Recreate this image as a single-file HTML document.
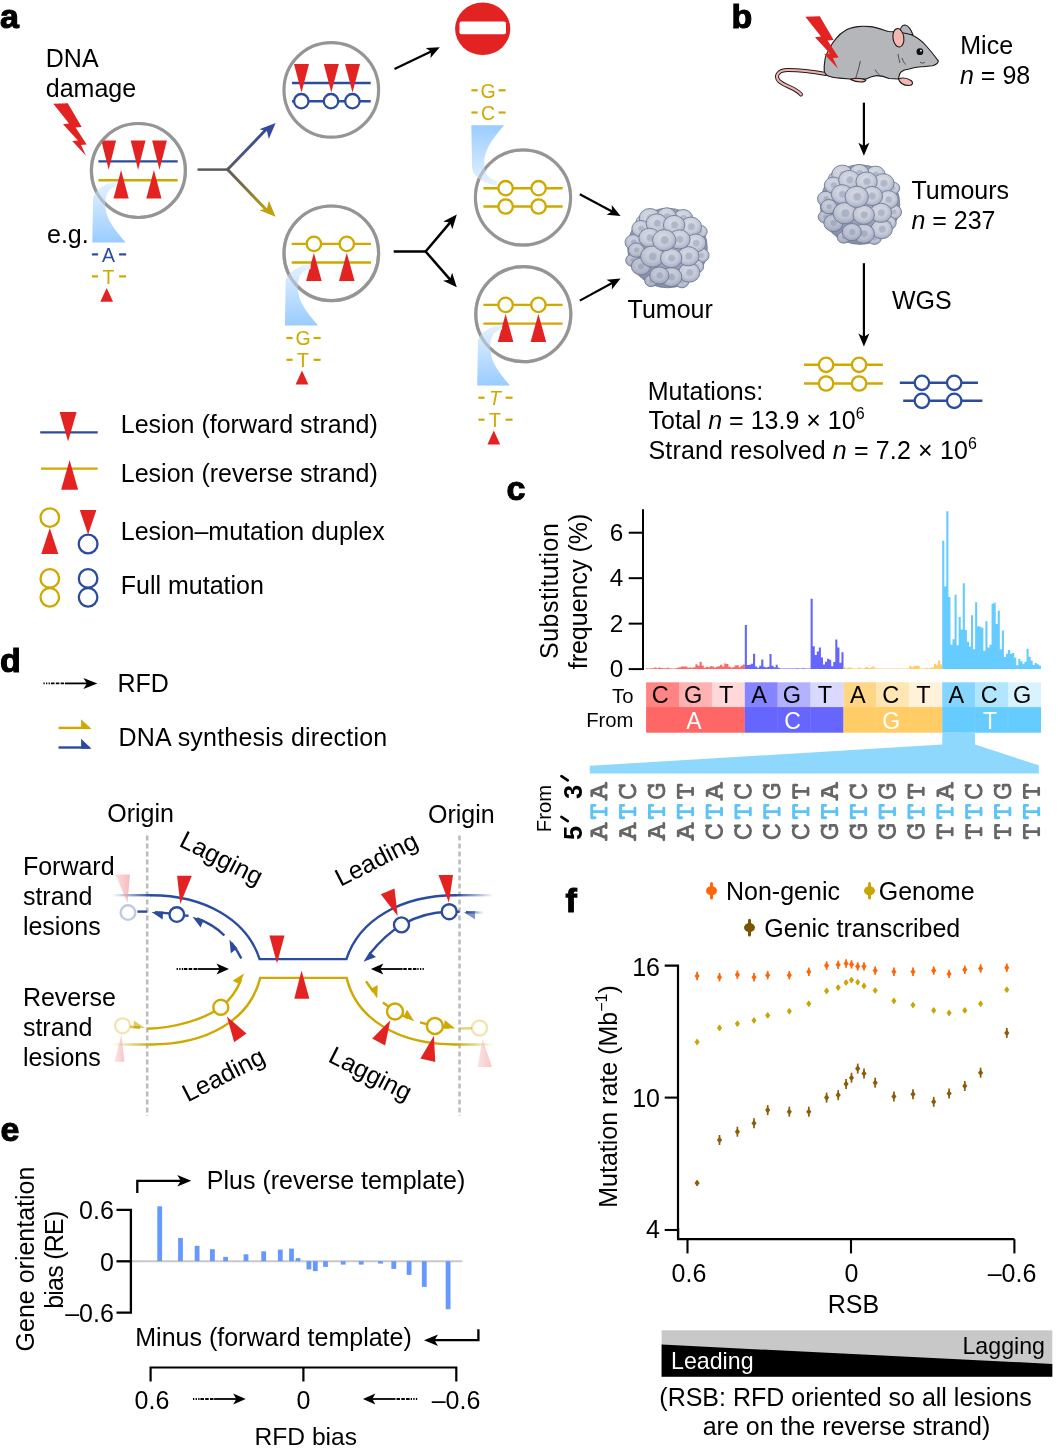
<!DOCTYPE html>
<html><head><meta charset="utf-8"><style>
html,body{margin:0;padding:0;background:#fff;}
svg{display:block;will-change:transform;}
text{font-family:"Liberation Sans", sans-serif;}
</style></head><body>
<svg width="1060" height="1450" viewBox="0 0 1060 1450">
<defs>
<linearGradient id="rib" x1="0" y1="0" x2="0" y2="1">
 <stop offset="0" stop-color="#e6f2ff"/><stop offset="1" stop-color="#99ccff"/></linearGradient>
<linearGradient id="ribU" x1="0" y1="1" x2="0" y2="0">
 <stop offset="0" stop-color="#e6f2ff"/><stop offset="1" stop-color="#99ccff"/></linearGradient>
<linearGradient id="gBlue" x1="0" y1="1" x2="1" y2="0">
 <stop offset="0" stop-color="#5a5a5a"/><stop offset="0.45" stop-color="#4a5684"/><stop offset="1" stop-color="#34499e"/></linearGradient>
<linearGradient id="gYel" x1="0" y1="0" x2="1" y2="1">
 <stop offset="0" stop-color="#5a5a5a"/><stop offset="0.45" stop-color="#7a7040"/><stop offset="1" stop-color="#c2a00c"/></linearGradient>
<radialGradient id="tumBase" cx="0.45" cy="0.45" r="0.6">
 <stop offset="0" stop-color="#b7bdcf"/><stop offset="1" stop-color="#8a93ad"/></radialGradient>
<linearGradient id="tumShade" x1="0.85" y1="0.1" x2="0.15" y2="0.95">
 <stop offset="0" stop-color="#5a6484" stop-opacity="0"/><stop offset="0.55" stop-color="#5a6484" stop-opacity="0.04"/><stop offset="1" stop-color="#5a6484" stop-opacity="0.28"/></linearGradient>
<radialGradient id="cellG" cx="0.45" cy="0.4" r="0.65">
 <stop offset="0" stop-color="#dde0e9"/><stop offset="0.55" stop-color="#cbd0dc"/><stop offset="0.85" stop-color="#b1b8ca"/><stop offset="1" stop-color="#949db6"/></radialGradient>
</defs>
<text x="0" y="28" font-size="34" font-weight="bold" stroke="#000" stroke-width="1.1">a</text>
<text x="731.5" y="28" font-size="34" font-weight="bold" stroke="#000" stroke-width="1.1">b</text>
<text x="506.5" y="499.5" font-size="34" font-weight="bold" stroke="#000" stroke-width="1.1">c</text>
<text x="0" y="672" font-size="34" font-weight="bold" stroke="#000" stroke-width="1.1">d</text>
<text x="0.5" y="1141" font-size="34" font-weight="bold" stroke="#000" stroke-width="1.1">e</text>
<text x="565.5" y="912" font-size="34" font-weight="bold" stroke="#000" stroke-width="1.1">f</text>
<polygon points="53.3,103.8 67.8,103.3 81.7,127.0 75.6,127.6 86.7,144.4 81.0,145.0 86.0,155.8 72.2,141.0 78.0,140.4 63.0,124.3 69.0,123.5" fill="#e32321"/>
<text x="45.8" y="67" font-size="25" >DNA</text>
<text x="45.8" y="96.5" font-size="25" >damage</text>
<text x="47" y="243.3" font-size="25" >e.g.</text>
<circle cx="138.4" cy="170.5" r="47" fill="#fff" stroke="#959595" stroke-width="3.2" />
<line x1="98.4" y1="161.4" x2="177.7" y2="161.4" stroke="#2b4c9e" stroke-width="2.4" />
<line x1="98.4" y1="180.2" x2="177.7" y2="180.2" stroke="#cfa800" stroke-width="2.4" />
<polygon points="101.3,140.6 116.10000000000001,140.6 108.7,169.79999999999998" fill="#e32321" />
<polygon points="130.7,140.6 145.5,140.6 138.1,169.79999999999998" fill="#e32321" />
<polygon points="152.1,140.6 166.9,140.6 159.5,169.79999999999998" fill="#e32321" />
<polygon points="113.5,198.6 128.7,198.6 121.1,170.0" fill="#e32321" />
<polygon points="146.3,198.6 161.5,198.6 153.9,170.0" fill="#e32321" />
<path d="M115.8,181.9 C105.8,182.9 93.3,189.9 93.1,199.9 L92.3,242.6 L125.7,242.6 C117.7,232.6 105.3,220.6 105.3,204.6 C105.3,193.9 109.3,187.9 115.8,186.9 Z" fill="url(#rib)"/>
<circle cx="138.4" cy="170.5" r="47" fill="none" stroke="#959595" stroke-width="3.2" stroke-opacity="0.55"/>
<line x1="91.9" y1="254.4" x2="98.1" y2="254.4" stroke="#2b4c9e" stroke-width="2.2" />
<line x1="119.1" y1="254.4" x2="126.1" y2="254.4" stroke="#2b4c9e" stroke-width="2.2" />
<text x="108.5" y="261.7" font-size="19.5" text-anchor="middle" fill="#2b4c9e" >A</text>
<line x1="91.9" y1="276.4" x2="98.1" y2="276.4" stroke="#cfa800" stroke-width="2.2" />
<line x1="119.1" y1="276.4" x2="126.1" y2="276.4" stroke="#cfa800" stroke-width="2.2" />
<text x="108.5" y="283.7" font-size="19.5" text-anchor="middle" fill="#cfa800" >T</text>
<polygon points="100.3,301.7 113.10000000000001,301.7 106.7,288.0" fill="#e32321" />
<line x1="197.5" y1="169.6" x2="228" y2="169.6" stroke="#5a5a5a" stroke-width="2.5" />
<path d="M226.6,170.6 L267,128.6" stroke="url(#gBlue)" stroke-width="2.9" fill="none"/>
<polygon points="275.60,123.00 259.42,129.30 266.99,131.36 268.82,138.99" fill="#34499e"/>
<path d="M226.6,168.6 L267,210.6" stroke="url(#gYel)" stroke-width="2.9" fill="none"/>
<polygon points="275.60,216.70 268.91,200.68 267.03,208.30 259.45,210.31" fill="#c2a00c"/>
<circle cx="331.3" cy="89.9" r="47.3" fill="#fff" stroke="#959595" stroke-width="3.2" />
<line x1="292" y1="83" x2="370.7" y2="83" stroke="#2b4c9e" stroke-width="2.4" />
<line x1="292" y1="101.2" x2="370.7" y2="101.2" stroke="#2b4c9e" stroke-width="2.4" />
<circle cx="301.3" cy="101.2" r="7.2" fill="#fff" stroke="#2b4c9e" stroke-width="2.3" />
<circle cx="331" cy="101.2" r="7.2" fill="#fff" stroke="#2b4c9e" stroke-width="2.3" />
<circle cx="352.4" cy="101.2" r="7.2" fill="#fff" stroke="#2b4c9e" stroke-width="2.3" />
<polygon points="294.0,64 309.0,64 301.5,92.5" fill="#e32321" />
<polygon points="323.8,64 338.8,64 331.3,92.5" fill="#e32321" />
<polygon points="345.0,64 360.0,64 352.5,92.5" fill="#e32321" />
<circle cx="331.3" cy="253.3" r="47.3" fill="#fff" stroke="#959595" stroke-width="3.2" />
<line x1="291.7" y1="243.9" x2="371" y2="243.9" stroke="#cfa800" stroke-width="2.4" />
<line x1="291.7" y1="262.5" x2="371" y2="262.5" stroke="#cfa800" stroke-width="2.4" />
<circle cx="313.9" cy="243.9" r="7.2" fill="#fff" stroke="#cfa800" stroke-width="2.3" />
<polygon points="306.09999999999997,281 321.7,281 313.9,253" fill="#e32321" />
<circle cx="346.8" cy="243.9" r="7.2" fill="#fff" stroke="#cfa800" stroke-width="2.3" />
<polygon points="339.0,281 354.6,281 346.8,253" fill="#e32321" />
<path d="M310.6,264 C300.6,265 285.9,272 285.7,282 L284.9,325.5 L318.1,325.5 C310.1,315.5 297.9,303.5 297.9,287.5 C297.9,276 301.9,270 310.6,269 Z" fill="url(#rib)"/>
<circle cx="331.3" cy="253.3" r="47.3" fill="none" stroke="#959595" stroke-width="3.2" stroke-opacity="0.55"/>
<line x1="286.4" y1="338" x2="292.6" y2="338" stroke="#cfa800" stroke-width="2.2" />
<line x1="313.6" y1="338" x2="320.6" y2="338" stroke="#cfa800" stroke-width="2.2" />
<text x="303" y="345.3" font-size="19.5" text-anchor="middle" fill="#cfa800" >G</text>
<line x1="286.4" y1="359.8" x2="292.6" y2="359.8" stroke="#cfa800" stroke-width="2.2" />
<line x1="313.6" y1="359.8" x2="320.6" y2="359.8" stroke="#cfa800" stroke-width="2.2" />
<text x="303" y="367.1" font-size="19.5" text-anchor="middle" fill="#cfa800" >T</text>
<polygon points="295.6,384.5 308.4,384.5 302,370.5" fill="#e32321" />
<line x1="393.7" y1="251.5" x2="426" y2="251.5" stroke="#000" stroke-width="2.5" />
<line x1="425" y1="252.2" x2="450.4715504219552" y2="222.0826950985687" stroke="#000" stroke-width="2.5" />
<polygon points="456.80,214.60 443.18,221.42 450.02,222.62 452.34,229.16" fill="#000"/>
<line x1="425" y1="250.8" x2="450.362434759747" y2="279.9109707148039" stroke="#000" stroke-width="2.5" />
<polygon points="456.80,287.30 452.13,272.80 449.90,279.38 443.08,280.69" fill="#000"/>
<line x1="394.5" y1="69.1" x2="431.60009882994916" y2="51.24608930479267" stroke="#000" stroke-width="2.2" />
<polygon points="439.80,47.30 425.70,47.98 431.01,51.53 430.47,57.89" fill="#000"/>
<ellipse cx="482.7" cy="28.8" rx="27.6" ry="26.3" fill="#e32321"/>
<rect x="459.5" y="21.4" width="46.5" height="12.8" rx="2" fill="#fff"/>
<line x1="471.4" y1="90.3" x2="477.6" y2="90.3" stroke="#cfa800" stroke-width="2.2" />
<line x1="498.6" y1="90.3" x2="505.6" y2="90.3" stroke="#cfa800" stroke-width="2.2" />
<text x="488" y="97.6" font-size="19.5" text-anchor="middle" fill="#cfa800" >G</text>
<line x1="471.4" y1="112.5" x2="477.6" y2="112.5" stroke="#cfa800" stroke-width="2.2" />
<line x1="498.6" y1="112.5" x2="505.6" y2="112.5" stroke="#cfa800" stroke-width="2.2" />
<text x="488" y="119.8" font-size="19.5" text-anchor="middle" fill="#cfa800" >C</text>
<circle cx="523" cy="197.5" r="47.6" fill="#fff" stroke="#959595" stroke-width="3" />
<path d="M497,185.5 C487,184.5 472.3,177.5 472.1,167.5 L471.3,125.2 L504.1,125.2 C496.1,135.2 484.3,147.2 484.3,163.2 C484.3,173.5 488.3,179.5 497,180.5 Z" fill="url(#ribU)"/>
<line x1="483.4" y1="188.2" x2="562.6" y2="188.2" stroke="#cfa800" stroke-width="2.4" />
<line x1="483.4" y1="206.5" x2="562.6" y2="206.5" stroke="#cfa800" stroke-width="2.4" />
<circle cx="505.6" cy="188.2" r="7.2" fill="#fff" stroke="#cfa800" stroke-width="2.3" />
<circle cx="505.6" cy="206.5" r="7.2" fill="#fff" stroke="#cfa800" stroke-width="2.3" />
<circle cx="538.6" cy="188.2" r="7.2" fill="#fff" stroke="#cfa800" stroke-width="2.3" />
<circle cx="538.6" cy="206.5" r="7.2" fill="#fff" stroke="#cfa800" stroke-width="2.3" />
<circle cx="523" cy="197.5" r="47.6" fill="none" stroke="#959595" stroke-width="3.2" stroke-opacity="0.55"/>
<circle cx="523.3" cy="314.2" r="47.5" fill="#fff" stroke="#959595" stroke-width="3.2" />
<line x1="483.4" y1="304.9" x2="562.6" y2="304.9" stroke="#cfa800" stroke-width="2.4" />
<line x1="483.4" y1="323.6" x2="562.6" y2="323.6" stroke="#cfa800" stroke-width="2.4" />
<circle cx="505.6" cy="304.9" r="7.2" fill="#fff" stroke="#cfa800" stroke-width="2.3" />
<polygon points="497.8,341.9 513.4,341.9 505.6,313.9" fill="#e32321" />
<circle cx="538.4" cy="304.9" r="7.2" fill="#fff" stroke="#cfa800" stroke-width="2.3" />
<polygon points="530.6,341.9 546.1999999999999,341.9 538.4,313.9" fill="#e32321" />
<path d="M502.1,324.6 C492.1,325.6 478.2,332.6 478.0,342.6 L477.2,385.4 L510,385.4 C502,375.4 490.2,363.4 490.2,347.4 C490.2,336.6 494.2,330.6 502.1,329.6 Z" fill="url(#rib)"/>
<circle cx="523.3" cy="314.2" r="47.5" fill="none" stroke="#959595" stroke-width="3.2" stroke-opacity="0.55"/>
<line x1="478.4" y1="397.7" x2="484.6" y2="397.7" stroke="#cfa800" stroke-width="2.2" />
<line x1="505.6" y1="397.7" x2="512.6" y2="397.7" stroke="#cfa800" stroke-width="2.2" />
<text x="495" y="405.0" font-size="19.5" text-anchor="middle" fill="#cfa800" font-style="italic" >T</text>
<line x1="478.4" y1="419.7" x2="484.6" y2="419.7" stroke="#cfa800" stroke-width="2.2" />
<line x1="505.6" y1="419.7" x2="512.6" y2="419.7" stroke="#cfa800" stroke-width="2.2" />
<text x="495" y="427.0" font-size="19.5" text-anchor="middle" fill="#cfa800" >T</text>
<polygon points="487.40000000000003,444.4 500.2,444.4 493.8,430.4" fill="#e32321" />
<line x1="579.8" y1="194.2" x2="612.5738578803569" y2="211.7115221027397" stroke="#000" stroke-width="2.2" />
<polygon points="620.60,216.00 611.73,205.02 612.00,211.41 606.54,214.72" fill="#000"/>
<line x1="579.8" y1="300.6" x2="612.6066622100739" y2="282.74931615040094" stroke="#000" stroke-width="2.2" />
<polygon points="620.60,278.40 606.55,279.78 612.04,283.06 611.81,289.44" fill="#000"/>
<circle cx="667.5" cy="248" r="39.769999999999996" fill="url(#tumBase)" stroke="#6c7694" stroke-width="0.8"/>
<ellipse cx="632.6" cy="260.3" rx="6.9" ry="6.2" fill="url(#cellG)" stroke="#737c9b" stroke-width="0.9"/>
<circle cx="633.0" cy="260.3" r="2.4" fill="#b2b8c9" stroke="#c3c8d5" stroke-width="0.8"/>
<ellipse cx="700.3" cy="231.6" rx="6.9" ry="6.2" fill="url(#cellG)" stroke="#737c9b" stroke-width="0.9"/>
<circle cx="700.6" cy="231.6" r="2.4" fill="#b2b8c9" stroke="#c3c8d5" stroke-width="0.8"/>
<ellipse cx="651.1" cy="280.8" rx="6.4" ry="5.8" fill="url(#cellG)" stroke="#737c9b" stroke-width="0.9"/>
<circle cx="651.4" cy="280.8" r="2.2" fill="#b2b8c9" stroke="#c3c8d5" stroke-width="0.8"/>
<ellipse cx="681.9" cy="281.6" rx="6.9" ry="6.2" fill="url(#cellG)" stroke="#737c9b" stroke-width="0.9"/>
<circle cx="682.2" cy="281.6" r="2.4" fill="#b2b8c9" stroke="#c3c8d5" stroke-width="0.8"/>
<ellipse cx="642.9" cy="221.8" rx="6.9" ry="6.2" fill="url(#cellG)" stroke="#737c9b" stroke-width="0.9"/>
<circle cx="643.2" cy="221.8" r="2.4" fill="#b2b8c9" stroke="#c3c8d5" stroke-width="0.8"/>
<ellipse cx="649.9" cy="218.1" rx="10.7" ry="9.6" fill="url(#cellG)" stroke="#737c9b" stroke-width="0.9"/>
<circle cx="650.4" cy="218.1" r="3.6" fill="#b2b8c9" stroke="#c3c8d5" stroke-width="0.8"/>
<ellipse cx="633.5" cy="242.3" rx="8.5" ry="7.7" fill="url(#cellG)" stroke="#737c9b" stroke-width="0.9"/>
<circle cx="633.9" cy="242.3" r="2.9" fill="#b2b8c9" stroke="#c3c8d5" stroke-width="0.8"/>
<ellipse cx="701.1" cy="255.4" rx="8.0" ry="7.2" fill="url(#cellG)" stroke="#737c9b" stroke-width="0.9"/>
<circle cx="701.5" cy="255.4" r="2.7" fill="#b2b8c9" stroke="#c3c8d5" stroke-width="0.8"/>
<ellipse cx="696.2" cy="266.4" rx="7.5" ry="6.7" fill="url(#cellG)" stroke="#737c9b" stroke-width="0.9"/>
<circle cx="696.6" cy="266.4" r="2.5" fill="#b2b8c9" stroke="#c3c8d5" stroke-width="0.8"/>
<ellipse cx="683.1" cy="218.1" rx="9.6" ry="8.6" fill="url(#cellG)" stroke="#737c9b" stroke-width="0.9"/>
<circle cx="683.6" cy="218.1" r="3.3" fill="#b2b8c9" stroke="#c3c8d5" stroke-width="0.8"/>
<ellipse cx="640.9" cy="228.7" rx="9.1" ry="8.2" fill="url(#cellG)" stroke="#737c9b" stroke-width="0.9"/>
<circle cx="641.3" cy="228.7" r="3.1" fill="#b2b8c9" stroke="#c3c8d5" stroke-width="0.8"/>
<ellipse cx="689.2" cy="272.6" rx="10.7" ry="9.6" fill="url(#cellG)" stroke="#737c9b" stroke-width="0.9"/>
<circle cx="689.8" cy="272.6" r="3.6" fill="#b2b8c9" stroke="#c3c8d5" stroke-width="0.8"/>
<ellipse cx="640.9" cy="266.4" rx="9.6" ry="8.6" fill="url(#cellG)" stroke="#737c9b" stroke-width="0.9"/>
<circle cx="641.3" cy="266.4" r="3.3" fill="#b2b8c9" stroke="#c3c8d5" stroke-width="0.8"/>
<ellipse cx="690.9" cy="226.7" rx="10.7" ry="9.6" fill="url(#cellG)" stroke="#737c9b" stroke-width="0.9"/>
<circle cx="691.4" cy="226.7" r="3.6" fill="#b2b8c9" stroke="#c3c8d5" stroke-width="0.8"/>
<ellipse cx="666.7" cy="216.4" rx="9.6" ry="8.6" fill="url(#cellG)" stroke="#737c9b" stroke-width="0.9"/>
<circle cx="667.2" cy="216.4" r="3.3" fill="#b2b8c9" stroke="#c3c8d5" stroke-width="0.8"/>
<ellipse cx="636.3" cy="250.1" rx="8.0" ry="7.2" fill="url(#cellG)" stroke="#737c9b" stroke-width="0.9"/>
<circle cx="636.7" cy="250.1" r="2.7" fill="#b2b8c9" stroke="#c3c8d5" stroke-width="0.8"/>
<ellipse cx="671.2" cy="277.1" rx="10.7" ry="9.6" fill="url(#cellG)" stroke="#737c9b" stroke-width="0.9"/>
<circle cx="671.7" cy="277.1" r="3.6" fill="#b2b8c9" stroke="#c3c8d5" stroke-width="0.8"/>
<ellipse cx="695.8" cy="243.1" rx="10.1" ry="9.1" fill="url(#cellG)" stroke="#737c9b" stroke-width="0.9"/>
<circle cx="696.3" cy="243.1" r="3.4" fill="#b2b8c9" stroke="#c3c8d5" stroke-width="0.8"/>
<ellipse cx="659.3" cy="275.5" rx="9.6" ry="8.6" fill="url(#cellG)" stroke="#737c9b" stroke-width="0.9"/>
<circle cx="659.8" cy="275.5" r="3.3" fill="#b2b8c9" stroke="#c3c8d5" stroke-width="0.8"/>
<ellipse cx="656.8" cy="223.4" rx="10.7" ry="9.6" fill="url(#cellG)" stroke="#737c9b" stroke-width="0.9"/>
<circle cx="657.4" cy="223.4" r="3.6" fill="#b2b8c9" stroke="#c3c8d5" stroke-width="0.8"/>
<ellipse cx="674.1" cy="225.0" rx="10.7" ry="9.6" fill="url(#cellG)" stroke="#737c9b" stroke-width="0.9"/>
<circle cx="674.6" cy="225.0" r="3.6" fill="#b2b8c9" stroke="#c3c8d5" stroke-width="0.8"/>
<ellipse cx="688.4" cy="256.2" rx="10.7" ry="9.6" fill="url(#cellG)" stroke="#737c9b" stroke-width="0.9"/>
<circle cx="688.9" cy="256.2" r="3.6" fill="#b2b8c9" stroke="#c3c8d5" stroke-width="0.8"/>
<ellipse cx="649.5" cy="237.8" rx="10.7" ry="9.6" fill="url(#cellG)" stroke="#737c9b" stroke-width="0.9"/>
<circle cx="650.0" cy="237.8" r="3.6" fill="#b2b8c9" stroke="#c3c8d5" stroke-width="0.8"/>
<ellipse cx="652.3" cy="256.6" rx="11.7" ry="10.6" fill="url(#cellG)" stroke="#737c9b" stroke-width="0.9"/>
<circle cx="652.9" cy="256.6" r="4.0" fill="#b2b8c9" stroke="#c3c8d5" stroke-width="0.8"/>
<ellipse cx="679.4" cy="239.4" rx="10.7" ry="9.6" fill="url(#cellG)" stroke="#737c9b" stroke-width="0.9"/>
<circle cx="679.9" cy="239.4" r="3.6" fill="#b2b8c9" stroke="#c3c8d5" stroke-width="0.8"/>
<ellipse cx="671.2" cy="258.2" rx="10.7" ry="9.6" fill="url(#cellG)" stroke="#737c9b" stroke-width="0.9"/>
<circle cx="671.7" cy="258.2" r="3.6" fill="#b2b8c9" stroke="#c3c8d5" stroke-width="0.8"/>
<ellipse cx="664.2" cy="240.2" rx="11.7" ry="10.6" fill="url(#cellG)" stroke="#737c9b" stroke-width="0.9"/>
<circle cx="664.8" cy="240.2" r="4.0" fill="#b2b8c9" stroke="#c3c8d5" stroke-width="0.8"/>
<clipPath id="tclip1"><circle cx="667.5" cy="248" r="39.769999999999996"/><ellipse cx="632.6" cy="260.3" rx="6.9" ry="6.2"/><ellipse cx="700.3" cy="231.6" rx="6.9" ry="6.2"/><ellipse cx="651.1" cy="280.8" rx="6.4" ry="5.8"/><ellipse cx="681.9" cy="281.6" rx="6.9" ry="6.2"/><ellipse cx="642.9" cy="221.8" rx="6.9" ry="6.2"/><ellipse cx="649.9" cy="218.1" rx="10.7" ry="9.6"/><ellipse cx="633.5" cy="242.3" rx="8.5" ry="7.7"/><ellipse cx="701.1" cy="255.4" rx="8.0" ry="7.2"/><ellipse cx="696.2" cy="266.4" rx="7.5" ry="6.7"/><ellipse cx="683.1" cy="218.1" rx="9.6" ry="8.6"/><ellipse cx="640.9" cy="228.7" rx="9.1" ry="8.2"/><ellipse cx="689.2" cy="272.6" rx="10.7" ry="9.6"/><ellipse cx="640.9" cy="266.4" rx="9.6" ry="8.6"/><ellipse cx="690.9" cy="226.7" rx="10.7" ry="9.6"/><ellipse cx="666.7" cy="216.4" rx="9.6" ry="8.6"/><ellipse cx="636.3" cy="250.1" rx="8.0" ry="7.2"/><ellipse cx="671.2" cy="277.1" rx="10.7" ry="9.6"/><ellipse cx="695.8" cy="243.1" rx="10.1" ry="9.1"/><ellipse cx="659.3" cy="275.5" rx="9.6" ry="8.6"/><ellipse cx="656.8" cy="223.4" rx="10.7" ry="9.6"/><ellipse cx="674.1" cy="225.0" rx="10.7" ry="9.6"/><ellipse cx="688.4" cy="256.2" rx="10.7" ry="9.6"/><ellipse cx="649.5" cy="237.8" rx="10.7" ry="9.6"/><ellipse cx="652.3" cy="256.6" rx="11.7" ry="10.6"/><ellipse cx="679.4" cy="239.4" rx="10.7" ry="9.6"/><ellipse cx="671.2" cy="258.2" rx="10.7" ry="9.6"/><ellipse cx="664.2" cy="240.2" rx="11.7" ry="10.6"/></clipPath>
<circle cx="667.5" cy="248" r="45.1" fill="url(#tumShade)" clip-path="url(#tclip1)"/>
<text x="627.6" y="317.6" font-size="25" >Tumour</text>
<line x1="40.2" y1="432.4" x2="97.7" y2="432.4" stroke="#2b4c9e" stroke-width="2.4" />
<polygon points="59.599999999999994,412 76.6,412 68.1,441.5" fill="#e32321" />
<text x="120.8" y="432.7" font-size="25" >Lesion (forward strand)</text>
<line x1="41" y1="468.6" x2="97.7" y2="468.6" stroke="#cfa800" stroke-width="2.4" />
<polygon points="61.099999999999994,489.7 78.1,489.7 69.6,460.09999999999997" fill="#e32321" />
<text x="120.8" y="482.2" font-size="25" >Lesion (reverse strand)</text>
<circle cx="49.8" cy="517.6" r="9.3" fill="#fff" stroke="#cfa800" stroke-width="2.3" />
<polygon points="41.3,554 58.3,554 49.8,528" fill="#e32321" />
<polygon points="79.8,510 96.39999999999999,510 88.1,534.5" fill="#e32321" />
<circle cx="88.1" cy="544" r="9.4" fill="#fff" stroke="#2b4c9e" stroke-width="2.3" />
<text x="120.8" y="540.3" font-size="25" >Lesion–mutation duplex</text>
<circle cx="49.8" cy="578.4" r="9.3" fill="#fff" stroke="#cfa800" stroke-width="2.3" />
<circle cx="88.1" cy="578.4" r="9.3" fill="#fff" stroke="#2b4c9e" stroke-width="2.3" />
<circle cx="49.8" cy="597.3" r="9.3" fill="#fff" stroke="#cfa800" stroke-width="2.3" />
<circle cx="88.1" cy="597.3" r="9.3" fill="#fff" stroke="#2b4c9e" stroke-width="2.3" />
<text x="120.8" y="594" font-size="25" >Full mutation</text>
<path d="M826,74 C815,72 800,70 788,70 C778,70 774.5,76 779,81 C784,86 796,88 801,94.5" stroke="#1a1a1a" stroke-width="4" fill="none" stroke-linecap="round"/>
<path d="M826,74 C815,72 800,70 788,70 C778,70 774.5,76 779,81 C784,86 796,88 801,94.5" stroke="#f2b3ad" stroke-width="2.2" fill="none" stroke-linecap="round"/>
<g stroke="#1a1a1a" stroke-width="1.1" stroke-linejoin="round">
<path d="M900,34 C900,28 902,25 905,25 C908,25.5 911,29.5 913,35 Z" fill="#b5b6ba"/>
<path d="M938.3,60.9 C934,55 930,50 925.4,45 C921,40 916,37 912,35 C906,33 898,32 888.6,31.5 C882,29.5 876,27 870.2,26.6 C865,26.2 861,26.2 857.9,26.6 C852,27.5 848,28.5 845.7,30.3 C840,33.5 838,36 835.8,38.8 C832,43 831,45 829.7,48.7 C826,54 825,58 824.8,60.9 C824.2,65 824,68 824.2,70.7 C824.5,73 825.5,74.5 827.3,75.6 C831,77.5 835,78 839.5,78.1 L850,79 L866,79 C870,77 873,76 876.3,75.6 C881,75.5 886,77 889,78.5 L898.5,79 C899,75 900,73 901,72 C904,69.5 907,69.5 909,69 C914,67.5 918,67 921,66.8 C926,66.4 930,66.2 932.7,65.8 C936,64.5 938.3,63 938.3,60.9 Z" fill="#b5b6ba"/>
<ellipse cx="898.4" cy="37.8" rx="5.4" ry="9.3" transform="rotate(-8 898.4 37.8)" fill="#f4b8b0"/>
<path d="M898.5,79 C902,77.5 907,78 911,80.5 C913.5,82.5 913,85.5 909,85.5 C904,85.5 900,84 898.5,79 Z" fill="#f4b8b0"/>
<path d="M850.5,79.5 C855,78 861,78 866,80 C865,82.5 858,83 850.5,79.5 Z" fill="#f4b8b0"/>
</g>
<circle cx="919.9" cy="51.7" r="3.4" fill="#111"/>
<circle cx="920.9" cy="50.7" r="0.9" fill="#fff"/>
<path d="M860.4,60.9 C859,68 857,74 855.5,78.5 M875,69.5 C877,73 879,75 881,76 M898,54 C898.5,57 899,60 900,63 M902,58 C903,61 904,63 906,64.5 M920,62 C921.5,63.5 923.5,63.5 925,62" stroke="#333" stroke-width="0.8" fill="none"/>
<polygon points="805.3,16.8 819.8,16.3 833.7,40.0 827.6,40.6 838.7,57.4 833.0,58.0 838.0,68.8 824.2,54.0 830.0,53.4 815.0,37.3 821.0,36.5" fill="#e32321"/>
<text x="960.3" y="54.2" font-size="25">Mice</text>
<text x="960" y="84.4" font-size="25"><tspan font-style="italic">n</tspan> = 98</text>
<line x1="863.9" y1="102.7" x2="863.9" y2="146.6" stroke="#000" stroke-width="2.2" />
<polygon points="863.90,155.70 869.40,142.70 863.90,145.95 858.40,142.70" fill="#000"/>
<circle cx="860" cy="204.6" r="39.769999999999996" fill="url(#tumBase)" stroke="#6c7694" stroke-width="0.8"/>
<ellipse cx="825.1" cy="216.9" rx="6.9" ry="6.2" fill="url(#cellG)" stroke="#737c9b" stroke-width="0.9"/>
<circle cx="825.5" cy="216.9" r="2.4" fill="#b2b8c9" stroke="#c3c8d5" stroke-width="0.8"/>
<ellipse cx="892.8" cy="188.2" rx="6.9" ry="6.2" fill="url(#cellG)" stroke="#737c9b" stroke-width="0.9"/>
<circle cx="893.1" cy="188.2" r="2.4" fill="#b2b8c9" stroke="#c3c8d5" stroke-width="0.8"/>
<ellipse cx="843.6" cy="237.4" rx="6.4" ry="5.8" fill="url(#cellG)" stroke="#737c9b" stroke-width="0.9"/>
<circle cx="843.9" cy="237.4" r="2.2" fill="#b2b8c9" stroke="#c3c8d5" stroke-width="0.8"/>
<ellipse cx="874.4" cy="238.2" rx="6.9" ry="6.2" fill="url(#cellG)" stroke="#737c9b" stroke-width="0.9"/>
<circle cx="874.7" cy="238.2" r="2.4" fill="#b2b8c9" stroke="#c3c8d5" stroke-width="0.8"/>
<ellipse cx="835.4" cy="178.4" rx="6.9" ry="6.2" fill="url(#cellG)" stroke="#737c9b" stroke-width="0.9"/>
<circle cx="835.7" cy="178.4" r="2.4" fill="#b2b8c9" stroke="#c3c8d5" stroke-width="0.8"/>
<ellipse cx="842.4" cy="174.7" rx="10.7" ry="9.6" fill="url(#cellG)" stroke="#737c9b" stroke-width="0.9"/>
<circle cx="842.9" cy="174.7" r="3.6" fill="#b2b8c9" stroke="#c3c8d5" stroke-width="0.8"/>
<ellipse cx="826.0" cy="198.9" rx="8.5" ry="7.7" fill="url(#cellG)" stroke="#737c9b" stroke-width="0.9"/>
<circle cx="826.4" cy="198.9" r="2.9" fill="#b2b8c9" stroke="#c3c8d5" stroke-width="0.8"/>
<ellipse cx="893.6" cy="212.0" rx="8.0" ry="7.2" fill="url(#cellG)" stroke="#737c9b" stroke-width="0.9"/>
<circle cx="894.0" cy="212.0" r="2.7" fill="#b2b8c9" stroke="#c3c8d5" stroke-width="0.8"/>
<ellipse cx="888.7" cy="223.0" rx="7.5" ry="6.7" fill="url(#cellG)" stroke="#737c9b" stroke-width="0.9"/>
<circle cx="889.1" cy="223.0" r="2.5" fill="#b2b8c9" stroke="#c3c8d5" stroke-width="0.8"/>
<ellipse cx="875.6" cy="174.7" rx="9.6" ry="8.6" fill="url(#cellG)" stroke="#737c9b" stroke-width="0.9"/>
<circle cx="876.1" cy="174.7" r="3.3" fill="#b2b8c9" stroke="#c3c8d5" stroke-width="0.8"/>
<ellipse cx="833.4" cy="185.3" rx="9.1" ry="8.2" fill="url(#cellG)" stroke="#737c9b" stroke-width="0.9"/>
<circle cx="833.8" cy="185.3" r="3.1" fill="#b2b8c9" stroke="#c3c8d5" stroke-width="0.8"/>
<ellipse cx="881.7" cy="229.2" rx="10.7" ry="9.6" fill="url(#cellG)" stroke="#737c9b" stroke-width="0.9"/>
<circle cx="882.3" cy="229.2" r="3.6" fill="#b2b8c9" stroke="#c3c8d5" stroke-width="0.8"/>
<ellipse cx="833.4" cy="223.0" rx="9.6" ry="8.6" fill="url(#cellG)" stroke="#737c9b" stroke-width="0.9"/>
<circle cx="833.8" cy="223.0" r="3.3" fill="#b2b8c9" stroke="#c3c8d5" stroke-width="0.8"/>
<ellipse cx="883.4" cy="183.3" rx="10.7" ry="9.6" fill="url(#cellG)" stroke="#737c9b" stroke-width="0.9"/>
<circle cx="883.9" cy="183.3" r="3.6" fill="#b2b8c9" stroke="#c3c8d5" stroke-width="0.8"/>
<ellipse cx="859.2" cy="173.0" rx="9.6" ry="8.6" fill="url(#cellG)" stroke="#737c9b" stroke-width="0.9"/>
<circle cx="859.7" cy="173.0" r="3.3" fill="#b2b8c9" stroke="#c3c8d5" stroke-width="0.8"/>
<ellipse cx="828.8" cy="206.7" rx="8.0" ry="7.2" fill="url(#cellG)" stroke="#737c9b" stroke-width="0.9"/>
<circle cx="829.2" cy="206.7" r="2.7" fill="#b2b8c9" stroke="#c3c8d5" stroke-width="0.8"/>
<ellipse cx="863.7" cy="233.7" rx="10.7" ry="9.6" fill="url(#cellG)" stroke="#737c9b" stroke-width="0.9"/>
<circle cx="864.2" cy="233.7" r="3.6" fill="#b2b8c9" stroke="#c3c8d5" stroke-width="0.8"/>
<ellipse cx="888.3" cy="199.7" rx="10.1" ry="9.1" fill="url(#cellG)" stroke="#737c9b" stroke-width="0.9"/>
<circle cx="888.8" cy="199.7" r="3.4" fill="#b2b8c9" stroke="#c3c8d5" stroke-width="0.8"/>
<ellipse cx="851.8" cy="232.1" rx="9.6" ry="8.6" fill="url(#cellG)" stroke="#737c9b" stroke-width="0.9"/>
<circle cx="852.3" cy="232.1" r="3.3" fill="#b2b8c9" stroke="#c3c8d5" stroke-width="0.8"/>
<ellipse cx="849.3" cy="180.0" rx="10.7" ry="9.6" fill="url(#cellG)" stroke="#737c9b" stroke-width="0.9"/>
<circle cx="849.9" cy="180.0" r="3.6" fill="#b2b8c9" stroke="#c3c8d5" stroke-width="0.8"/>
<ellipse cx="866.6" cy="181.6" rx="10.7" ry="9.6" fill="url(#cellG)" stroke="#737c9b" stroke-width="0.9"/>
<circle cx="867.1" cy="181.6" r="3.6" fill="#b2b8c9" stroke="#c3c8d5" stroke-width="0.8"/>
<ellipse cx="880.9" cy="212.8" rx="10.7" ry="9.6" fill="url(#cellG)" stroke="#737c9b" stroke-width="0.9"/>
<circle cx="881.4" cy="212.8" r="3.6" fill="#b2b8c9" stroke="#c3c8d5" stroke-width="0.8"/>
<ellipse cx="842.0" cy="194.3" rx="10.7" ry="9.6" fill="url(#cellG)" stroke="#737c9b" stroke-width="0.9"/>
<circle cx="842.5" cy="194.3" r="3.6" fill="#b2b8c9" stroke="#c3c8d5" stroke-width="0.8"/>
<ellipse cx="844.8" cy="213.2" rx="11.7" ry="10.6" fill="url(#cellG)" stroke="#737c9b" stroke-width="0.9"/>
<circle cx="845.4" cy="213.2" r="4.0" fill="#b2b8c9" stroke="#c3c8d5" stroke-width="0.8"/>
<ellipse cx="871.9" cy="196.0" rx="10.7" ry="9.6" fill="url(#cellG)" stroke="#737c9b" stroke-width="0.9"/>
<circle cx="872.4" cy="196.0" r="3.6" fill="#b2b8c9" stroke="#c3c8d5" stroke-width="0.8"/>
<ellipse cx="863.7" cy="214.8" rx="10.7" ry="9.6" fill="url(#cellG)" stroke="#737c9b" stroke-width="0.9"/>
<circle cx="864.2" cy="214.8" r="3.6" fill="#b2b8c9" stroke="#c3c8d5" stroke-width="0.8"/>
<ellipse cx="856.7" cy="196.8" rx="11.7" ry="10.6" fill="url(#cellG)" stroke="#737c9b" stroke-width="0.9"/>
<circle cx="857.3" cy="196.8" r="4.0" fill="#b2b8c9" stroke="#c3c8d5" stroke-width="0.8"/>
<clipPath id="tclip2"><circle cx="860" cy="204.6" r="39.769999999999996"/><ellipse cx="825.1" cy="216.9" rx="6.9" ry="6.2"/><ellipse cx="892.8" cy="188.2" rx="6.9" ry="6.2"/><ellipse cx="843.6" cy="237.4" rx="6.4" ry="5.8"/><ellipse cx="874.4" cy="238.2" rx="6.9" ry="6.2"/><ellipse cx="835.4" cy="178.4" rx="6.9" ry="6.2"/><ellipse cx="842.4" cy="174.7" rx="10.7" ry="9.6"/><ellipse cx="826.0" cy="198.9" rx="8.5" ry="7.7"/><ellipse cx="893.6" cy="212.0" rx="8.0" ry="7.2"/><ellipse cx="888.7" cy="223.0" rx="7.5" ry="6.7"/><ellipse cx="875.6" cy="174.7" rx="9.6" ry="8.6"/><ellipse cx="833.4" cy="185.3" rx="9.1" ry="8.2"/><ellipse cx="881.7" cy="229.2" rx="10.7" ry="9.6"/><ellipse cx="833.4" cy="223.0" rx="9.6" ry="8.6"/><ellipse cx="883.4" cy="183.3" rx="10.7" ry="9.6"/><ellipse cx="859.2" cy="173.0" rx="9.6" ry="8.6"/><ellipse cx="828.8" cy="206.7" rx="8.0" ry="7.2"/><ellipse cx="863.7" cy="233.7" rx="10.7" ry="9.6"/><ellipse cx="888.3" cy="199.7" rx="10.1" ry="9.1"/><ellipse cx="851.8" cy="232.1" rx="9.6" ry="8.6"/><ellipse cx="849.3" cy="180.0" rx="10.7" ry="9.6"/><ellipse cx="866.6" cy="181.6" rx="10.7" ry="9.6"/><ellipse cx="880.9" cy="212.8" rx="10.7" ry="9.6"/><ellipse cx="842.0" cy="194.3" rx="10.7" ry="9.6"/><ellipse cx="844.8" cy="213.2" rx="11.7" ry="10.6"/><ellipse cx="871.9" cy="196.0" rx="10.7" ry="9.6"/><ellipse cx="863.7" cy="214.8" rx="10.7" ry="9.6"/><ellipse cx="856.7" cy="196.8" rx="11.7" ry="10.6"/></clipPath>
<circle cx="860" cy="204.6" r="45.1" fill="url(#tumShade)" clip-path="url(#tclip2)"/>
<text x="911.4" y="199" font-size="25" >Tumours</text>
<text x="911.4" y="228.7" font-size="25"><tspan font-style="italic">n</tspan> = 237</text>
<line x1="863.9" y1="263.2" x2="863.9" y2="337.4" stroke="#000" stroke-width="2.2" />
<polygon points="863.90,346.50 869.40,333.50 863.90,336.75 858.40,333.50" fill="#000"/>
<text x="892" y="309.4" font-size="25" >WGS</text>
<line x1="804" y1="364.8" x2="882.9" y2="364.8" stroke="#cfa800" stroke-width="2.4" />
<circle cx="826.1" cy="364.8" r="7.2" fill="#fff" stroke="#cfa800" stroke-width="2.3" />
<circle cx="859.1" cy="364.8" r="7.2" fill="#fff" stroke="#cfa800" stroke-width="2.3" />
<line x1="804" y1="383.5" x2="882.9" y2="383.5" stroke="#cfa800" stroke-width="2.4" />
<circle cx="826.1" cy="383.5" r="7.2" fill="#fff" stroke="#cfa800" stroke-width="2.3" />
<circle cx="859.1" cy="383.5" r="7.2" fill="#fff" stroke="#cfa800" stroke-width="2.3" />
<line x1="899.8" y1="382.8" x2="978" y2="382.8" stroke="#2b4c9e" stroke-width="2.4" />
<line x1="903.2" y1="400.8" x2="982.4" y2="400.8" stroke="#2b4c9e" stroke-width="2.4" />
<circle cx="921.9" cy="382.8" r="7.2" fill="#fff" stroke="#2b4c9e" stroke-width="2.3" />
<circle cx="921.9" cy="400.8" r="7.2" fill="#fff" stroke="#2b4c9e" stroke-width="2.3" />
<circle cx="954.2" cy="382.8" r="7.2" fill="#fff" stroke="#2b4c9e" stroke-width="2.3" />
<circle cx="954.2" cy="400.8" r="7.2" fill="#fff" stroke="#2b4c9e" stroke-width="2.3" />
<text x="647.8" y="399.8" font-size="25" >Mutations:</text>
<text x="648.5" y="429.4" font-size="25">Total <tspan font-style="italic">n</tspan> = 13.9 × 10<tspan font-size="16" dy="-10">6</tspan></text>
<text x="648.5" y="459.3" font-size="25" textLength="328.4">Strand resolved <tspan font-style="italic">n</tspan> = 7.2 × 10<tspan font-size="16" dy="-10">6</tspan></text>
<path d="M646.10,669.1 h2.11 v-0.77 h-2.11ZM648.16,669.1 h2.11 v-0.60 h-2.11ZM650.21,669.1 h2.11 v-0.77 h-2.11ZM652.27,669.1 h2.11 v-0.95 h-2.11ZM654.33,669.1 h2.11 v-1.55 h-2.11ZM656.38,669.1 h2.11 v-0.95 h-2.11ZM658.44,669.1 h2.11 v-1.55 h-2.11ZM660.49,669.1 h2.11 v-1.16 h-2.11ZM662.55,669.1 h2.11 v-0.77 h-2.11ZM664.61,669.1 h2.11 v-0.95 h-2.11ZM666.66,669.1 h2.11 v-1.25 h-2.11ZM668.72,669.1 h2.11 v-0.77 h-2.11ZM670.77,669.1 h2.11 v-0.68 h-2.11ZM672.83,669.1 h2.11 v-0.60 h-2.11ZM674.89,669.1 h2.11 v-0.95 h-2.11ZM676.94,669.1 h2.11 v-1.25 h-2.11ZM679.00,669.1 h2.11 v-1.73 h-2.11ZM681.06,669.1 h2.11 v-2.50 h-2.11ZM683.11,669.1 h2.11 v-2.50 h-2.11ZM685.17,669.1 h2.11 v-2.50 h-2.11ZM687.23,669.1 h2.11 v-1.25 h-2.11ZM689.28,669.1 h2.11 v-1.55 h-2.11ZM691.34,669.1 h2.11 v-1.25 h-2.11ZM693.39,669.1 h2.11 v-1.73 h-2.11ZM695.45,669.1 h2.11 v-4.77 h-2.11ZM697.51,669.1 h2.11 v-3.41 h-2.11ZM699.56,669.1 h2.11 v-7.27 h-2.11ZM701.62,669.1 h2.11 v-3.64 h-2.11ZM703.67,669.1 h2.11 v-1.25 h-2.11ZM705.73,669.1 h2.11 v-2.27 h-2.11ZM707.79,669.1 h2.11 v-1.93 h-2.11ZM709.84,669.1 h2.11 v-2.73 h-2.11ZM711.90,669.1 h2.11 v-2.50 h-2.11ZM713.96,669.1 h2.11 v-1.55 h-2.11ZM716.01,669.1 h2.11 v-2.27 h-2.11ZM718.07,669.1 h2.11 v-2.73 h-2.11ZM720.12,669.1 h2.11 v-4.43 h-2.11ZM722.18,669.1 h2.11 v-2.50 h-2.11ZM724.24,669.1 h2.11 v-5.59 h-2.11ZM726.29,669.1 h2.11 v-5.11 h-2.11ZM728.35,669.1 h2.11 v-2.27 h-2.11ZM730.41,669.1 h2.11 v-1.55 h-2.11ZM732.46,669.1 h2.11 v-1.93 h-2.11ZM734.52,669.1 h2.11 v-3.64 h-2.11ZM736.57,669.1 h2.11 v-3.86 h-2.11ZM738.63,669.1 h2.11 v-1.73 h-2.11ZM740.69,669.1 h2.11 v-3.41 h-2.11ZM742.74,669.1 h2.11 v-4.55 h-2.11Z" fill="#ff6666"/>
<path d="M744.80,669.1 h2.11 v-44.10 h-2.11ZM746.86,669.1 h2.11 v-4.09 h-2.11ZM748.91,669.1 h2.11 v-4.32 h-2.11ZM750.97,669.1 h2.11 v-5.23 h-2.11ZM753.02,669.1 h2.11 v-15.46 h-2.11ZM755.08,669.1 h2.11 v-2.50 h-2.11ZM757.14,669.1 h2.11 v-1.36 h-2.11ZM759.19,669.1 h2.11 v-3.41 h-2.11ZM761.25,669.1 h2.11 v-9.55 h-2.11ZM763.31,669.1 h2.11 v-2.27 h-2.11ZM765.36,669.1 h2.11 v-1.59 h-2.11ZM767.42,669.1 h2.11 v-2.27 h-2.11ZM769.47,669.1 h2.11 v-15.00 h-2.11ZM771.53,669.1 h2.11 v-3.41 h-2.11ZM773.59,669.1 h2.11 v-1.82 h-2.11ZM775.64,669.1 h2.11 v-4.32 h-2.11ZM777.70,669.1 h2.11 v-1.36 h-2.11ZM779.76,669.1 h2.11 v-0.68 h-2.11ZM781.81,669.1 h2.11 v-0.60 h-2.11ZM783.87,669.1 h2.11 v-0.60 h-2.11ZM785.93,669.1 h2.11 v-0.60 h-2.11ZM787.98,669.1 h2.11 v-0.60 h-2.11ZM790.04,669.1 h2.11 v-0.68 h-2.11ZM792.09,669.1 h2.11 v-0.60 h-2.11ZM794.15,669.1 h2.11 v-0.68 h-2.11ZM796.21,669.1 h2.11 v-0.91 h-2.11ZM798.26,669.1 h2.11 v-0.60 h-2.11ZM800.32,669.1 h2.11 v-0.68 h-2.11ZM802.38,669.1 h2.11 v-0.91 h-2.11ZM804.43,669.1 h2.11 v-0.68 h-2.11ZM806.49,669.1 h2.11 v-0.68 h-2.11ZM808.54,669.1 h2.11 v-0.60 h-2.11ZM810.60,669.1 h2.11 v-70.46 h-2.11ZM812.66,669.1 h2.11 v-22.73 h-2.11ZM814.71,669.1 h2.11 v-14.09 h-2.11ZM816.77,669.1 h2.11 v-17.50 h-2.11ZM818.83,669.1 h2.11 v-21.59 h-2.11ZM820.88,669.1 h2.11 v-11.59 h-2.11ZM822.94,669.1 h2.11 v-4.55 h-2.11ZM824.99,669.1 h2.11 v-7.27 h-2.11ZM827.05,669.1 h2.11 v-10.23 h-2.11ZM829.11,669.1 h2.11 v-9.32 h-2.11ZM831.16,669.1 h2.11 v-2.95 h-2.11ZM833.22,669.1 h2.11 v-7.05 h-2.11ZM835.27,669.1 h2.11 v-29.55 h-2.11ZM837.33,669.1 h2.11 v-21.59 h-2.11ZM839.39,669.1 h2.11 v-6.36 h-2.11ZM841.44,669.1 h2.11 v-16.82 h-2.11Z" fill="#6666ff"/>
<path d="M843.50,669.1 h2.11 v-2.27 h-2.11ZM845.56,669.1 h2.11 v-0.80 h-2.11ZM847.61,669.1 h2.11 v-1.59 h-2.11ZM849.67,669.1 h2.11 v-1.59 h-2.11ZM851.73,669.1 h2.11 v-0.80 h-2.11ZM853.78,669.1 h2.11 v-0.60 h-2.11ZM855.84,669.1 h2.11 v-0.60 h-2.11ZM857.89,669.1 h2.11 v-1.30 h-2.11ZM859.95,669.1 h2.11 v-0.80 h-2.11ZM862.01,669.1 h2.11 v-0.60 h-2.11ZM864.06,669.1 h2.11 v-1.30 h-2.11ZM866.12,669.1 h2.11 v-1.98 h-2.11ZM868.17,669.1 h2.11 v-1.00 h-2.11ZM870.23,669.1 h2.11 v-1.59 h-2.11ZM872.29,669.1 h2.11 v-2.77 h-2.11ZM874.34,669.1 h2.11 v-0.80 h-2.11ZM876.40,669.1 h2.11 v-0.60 h-2.11ZM878.46,669.1 h2.11 v-0.60 h-2.11ZM880.51,669.1 h2.11 v-0.60 h-2.11ZM882.57,669.1 h2.11 v-0.60 h-2.11ZM884.62,669.1 h2.11 v-0.60 h-2.11ZM886.68,669.1 h2.11 v-0.60 h-2.11ZM888.74,669.1 h2.11 v-0.60 h-2.11ZM890.79,669.1 h2.11 v-0.60 h-2.11ZM892.85,669.1 h2.11 v-0.60 h-2.11ZM894.91,669.1 h2.11 v-0.60 h-2.11ZM896.96,669.1 h2.11 v-0.60 h-2.11ZM899.02,669.1 h2.11 v-0.60 h-2.11ZM901.07,669.1 h2.11 v-0.60 h-2.11ZM903.13,669.1 h2.11 v-0.60 h-2.11ZM905.19,669.1 h2.11 v-0.60 h-2.11ZM907.24,669.1 h2.11 v-0.60 h-2.11ZM909.30,669.1 h2.11 v-3.27 h-2.11ZM911.36,669.1 h2.11 v-1.80 h-2.11ZM913.41,669.1 h2.11 v-2.98 h-2.11ZM915.47,669.1 h2.11 v-3.27 h-2.11ZM917.52,669.1 h2.11 v-3.27 h-2.11ZM919.58,669.1 h2.11 v-0.60 h-2.11ZM921.64,669.1 h2.11 v-0.60 h-2.11ZM923.69,669.1 h2.11 v-0.60 h-2.11ZM925.75,669.1 h2.11 v-1.30 h-2.11ZM927.81,669.1 h2.11 v-0.80 h-2.11ZM929.86,669.1 h2.11 v-1.30 h-2.11ZM931.92,669.1 h2.11 v-1.59 h-2.11ZM933.97,669.1 h2.11 v-5.27 h-2.11ZM936.03,669.1 h2.11 v-3.77 h-2.11ZM938.09,669.1 h2.11 v-8.55 h-2.11ZM940.14,669.1 h2.11 v-4.55 h-2.11Z" fill="#ffcc66"/>
<path d="M942.20,669.1 h2.11 v-128.42 h-2.11ZM944.26,669.1 h2.11 v-82.51 h-2.11ZM946.31,669.1 h2.11 v-157.75 h-2.11ZM948.37,669.1 h2.11 v-72.05 h-2.11ZM950.43,669.1 h2.11 v-24.32 h-2.11ZM952.48,669.1 h2.11 v-29.78 h-2.11ZM954.54,669.1 h2.11 v-74.33 h-2.11ZM956.59,669.1 h2.11 v-23.87 h-2.11ZM958.65,669.1 h2.11 v-52.05 h-2.11ZM960.71,669.1 h2.11 v-39.55 h-2.11ZM962.76,669.1 h2.11 v-85.92 h-2.11ZM964.82,669.1 h2.11 v-39.10 h-2.11ZM966.88,669.1 h2.11 v-27.28 h-2.11ZM968.93,669.1 h2.11 v-22.50 h-2.11ZM970.99,669.1 h2.11 v-53.87 h-2.11ZM973.04,669.1 h2.11 v-19.78 h-2.11ZM975.10,669.1 h2.11 v-66.83 h-2.11ZM977.16,669.1 h2.11 v-42.73 h-2.11ZM979.21,669.1 h2.11 v-42.28 h-2.11ZM981.27,669.1 h2.11 v-41.37 h-2.11ZM983.33,669.1 h2.11 v-18.41 h-2.11ZM985.38,669.1 h2.11 v-47.73 h-2.11ZM987.44,669.1 h2.11 v-21.59 h-2.11ZM989.49,669.1 h2.11 v-24.32 h-2.11ZM991.55,669.1 h2.11 v-65.24 h-2.11ZM993.61,669.1 h2.11 v-66.37 h-2.11ZM995.66,669.1 h2.11 v-45.01 h-2.11ZM997.72,669.1 h2.11 v-58.42 h-2.11ZM999.77,669.1 h2.11 v-19.78 h-2.11ZM1001.83,669.1 h2.11 v-38.64 h-2.11ZM1003.89,669.1 h2.11 v-12.05 h-2.11ZM1005.94,669.1 h2.11 v-15.46 h-2.11ZM1008.00,669.1 h2.11 v-19.09 h-2.11ZM1010.06,669.1 h2.11 v-15.46 h-2.11ZM1012.11,669.1 h2.11 v-16.14 h-2.11ZM1014.17,669.1 h2.11 v-11.37 h-2.11ZM1016.23,669.1 h2.11 v-3.86 h-2.11ZM1018.28,669.1 h2.11 v-10.00 h-2.11ZM1020.34,669.1 h2.11 v-7.96 h-2.11ZM1022.39,669.1 h2.11 v-5.46 h-2.11ZM1024.45,669.1 h2.11 v-7.27 h-2.11ZM1026.51,669.1 h2.11 v-20.46 h-2.11ZM1028.56,669.1 h2.11 v-12.27 h-2.11ZM1030.62,669.1 h2.11 v-8.64 h-2.11ZM1032.67,669.1 h2.11 v-4.09 h-2.11ZM1034.73,669.1 h2.11 v-6.14 h-2.11ZM1036.79,669.1 h2.11 v-4.77 h-2.11ZM1038.84,669.1 h2.11 v-3.64 h-2.11Z" fill="#66ccff"/>
<line x1="643" y1="509.2" x2="643" y2="670.1" stroke="#000" stroke-width="2" />
<line x1="628.7" y1="669.1" x2="643" y2="669.1" stroke="#000" stroke-width="2" />
<text x="623.3" y="677.3000000000001" font-size="24.3" text-anchor="end" >0</text>
<line x1="628.7" y1="623.64" x2="643" y2="623.64" stroke="#000" stroke-width="2" />
<text x="623.3" y="631.84" font-size="24.3" text-anchor="end" >2</text>
<line x1="628.7" y1="578.1800000000001" x2="643" y2="578.1800000000001" stroke="#000" stroke-width="2" />
<text x="623.3" y="586.3800000000001" font-size="24.3" text-anchor="end" >4</text>
<line x1="628.7" y1="532.72" x2="643" y2="532.72" stroke="#000" stroke-width="2" />
<text x="623.3" y="540.9200000000001" font-size="24.3" text-anchor="end" >6</text>
<text transform="translate(557.6,591) rotate(-90)" font-size="25" text-anchor="middle" textLength="135.8">Substitution</text>
<text transform="translate(587,591.5) rotate(-90)" font-size="25" text-anchor="middle">frequency (%)</text>
<rect x="646.10" y="707" width="98.80" height="25.7" fill="#ff6666"/>
<rect x="646.10" y="682.3" width="33.00" height="24.8" fill="#ff8585"/>
<text x="660.35" y="702.8" font-size="23.5" text-anchor="middle" >C</text>
<rect x="679.00" y="682.3" width="33.00" height="24.8" fill="#ffb2b2"/>
<text x="693.25" y="702.8" font-size="23.5" text-anchor="middle" >G</text>
<rect x="711.90" y="682.3" width="33.00" height="24.8" fill="#ffd9d9"/>
<text x="726.15" y="702.8" font-size="23.5" text-anchor="middle" >T</text>
<text x="693.85" y="729.1" font-size="23" text-anchor="middle" fill="#fff" >A</text>
<rect x="744.80" y="707" width="98.80" height="25.7" fill="#6666ff"/>
<rect x="744.80" y="682.3" width="33.00" height="24.8" fill="#8585ff"/>
<text x="759.05" y="702.8" font-size="23.5" text-anchor="middle" >A</text>
<rect x="777.70" y="682.3" width="33.00" height="24.8" fill="#b2b2ff"/>
<text x="791.95" y="702.8" font-size="23.5" text-anchor="middle" >G</text>
<line x1="777.70" y1="707" x2="777.70" y2="732.7" stroke="#fff" stroke-width="0.8" stroke-opacity="0.1"/>
<rect x="810.60" y="682.3" width="33.00" height="24.8" fill="#d9d9ff"/>
<text x="824.85" y="702.8" font-size="23.5" text-anchor="middle" >T</text>
<line x1="810.60" y1="707" x2="810.60" y2="732.7" stroke="#fff" stroke-width="0.8" stroke-opacity="0.1"/>
<text x="792.55" y="729.1" font-size="23" text-anchor="middle" fill="#fff" >C</text>
<rect x="843.50" y="707" width="98.80" height="25.7" fill="#ffcc66"/>
<rect x="843.50" y="682.3" width="33.00" height="24.8" fill="#ffd685"/>
<text x="857.75" y="702.8" font-size="23.5" text-anchor="middle" >A</text>
<rect x="876.40" y="682.3" width="33.00" height="24.8" fill="#ffe6b2"/>
<text x="890.65" y="702.8" font-size="23.5" text-anchor="middle" >C</text>
<line x1="876.40" y1="707" x2="876.40" y2="732.7" stroke="#fff" stroke-width="0.8" stroke-opacity="0.1"/>
<rect x="909.30" y="682.3" width="33.00" height="24.8" fill="#fff2d9"/>
<text x="923.55" y="702.8" font-size="23.5" text-anchor="middle" >T</text>
<line x1="909.30" y1="707" x2="909.30" y2="732.7" stroke="#fff" stroke-width="0.8" stroke-opacity="0.1"/>
<text x="891.25" y="729.1" font-size="23" text-anchor="middle" fill="#fff" >G</text>
<rect x="942.20" y="707" width="98.80" height="25.7" fill="#66ccff"/>
<rect x="942.20" y="682.3" width="33.00" height="24.8" fill="#85d6ff"/>
<text x="956.45" y="702.8" font-size="23.5" text-anchor="middle" >A</text>
<rect x="975.10" y="682.3" width="33.00" height="24.8" fill="#b2e6ff"/>
<text x="989.35" y="702.8" font-size="23.5" text-anchor="middle" >C</text>
<line x1="975.10" y1="707" x2="975.10" y2="732.7" stroke="#fff" stroke-width="0.8" stroke-opacity="0.1"/>
<rect x="1008.00" y="682.3" width="33.00" height="24.8" fill="#d9f2ff"/>
<text x="1022.25" y="702.8" font-size="23.5" text-anchor="middle" >G</text>
<line x1="1008.00" y1="707" x2="1008.00" y2="732.7" stroke="#fff" stroke-width="0.8" stroke-opacity="0.1"/>
<text x="989.95" y="729.1" font-size="23" text-anchor="middle" fill="#fff" >T</text>
<text x="633.5" y="702.7" font-size="20.3" text-anchor="end" >To</text>
<text x="633.5" y="726.8" font-size="20.3" text-anchor="end" >From</text>
<polygon points="942.3,732.6 975,732.6 975,744.6 1038.8,765.3 1038.8,773.5 589.8,773.5 589.8,765.8 942.3,744.6" fill="#8dd8fc"/>
<path transform="translate(606.1,831.6) rotate(-90) scale(0.91)" d="M-6.6,0 L-0.6,-15.8 L0.6,-15.8 L6.6,0 M-4.8,-15.8 H0.2 M-4.1,-5.6 H4.1 M-9,0 H-4.3 M4.3,0 H9" stroke="#666" stroke-width="3.0" fill="none" stroke-linecap="round" stroke-linejoin="round"/>
<path transform="translate(606.1,811.6) rotate(-90) scale(0.91)" d="M-6.8,-15.8 H6.8 M-6.8,-15.8 V-12.2 M6.8,-15.8 V-12.2 M0,-15.8 V0 M-3.6,0 H3.6" stroke="#5cc3f7" stroke-width="3.2" fill="none" stroke-linecap="round" stroke-linejoin="round"/>
<path transform="translate(606.1,791.4) rotate(-90) scale(0.91)" d="M-6.6,0 L-0.6,-15.8 L0.6,-15.8 L6.6,0 M-4.8,-15.8 H0.2 M-4.1,-5.6 H4.1 M-9,0 H-4.3 M4.3,0 H9" stroke="#666" stroke-width="3.0" fill="none" stroke-linecap="round" stroke-linejoin="round"/>
<path transform="translate(634.9,831.6) rotate(-90) scale(0.91)" d="M-6.6,0 L-0.6,-15.8 L0.6,-15.8 L6.6,0 M-4.8,-15.8 H0.2 M-4.1,-5.6 H4.1 M-9,0 H-4.3 M4.3,0 H9" stroke="#666" stroke-width="3.0" fill="none" stroke-linecap="round" stroke-linejoin="round"/>
<path transform="translate(634.9,811.6) rotate(-90) scale(0.91)" d="M-6.8,-15.8 H6.8 M-6.8,-15.8 V-12.2 M6.8,-15.8 V-12.2 M0,-15.8 V0 M-3.6,0 H3.6" stroke="#5cc3f7" stroke-width="3.2" fill="none" stroke-linecap="round" stroke-linejoin="round"/>
<path transform="translate(634.9,791.4) rotate(-90) scale(0.91)" d="M6.4,-12.6 C5.2,-15 3.2,-16.3 0.3,-16.3 C-4.3,-16.3 -6.8,-12.6 -6.8,-8 C-6.8,-3.4 -4.3,0.3 0.3,0.3 C3,0.3 5.2,-0.9 6.8,-3.3 M6.4,-16.6 V-11.6" stroke="#666" stroke-width="3.0" fill="none" stroke-linecap="round" stroke-linejoin="round"/>
<path transform="translate(663.8,831.6) rotate(-90) scale(0.91)" d="M-6.6,0 L-0.6,-15.8 L0.6,-15.8 L6.6,0 M-4.8,-15.8 H0.2 M-4.1,-5.6 H4.1 M-9,0 H-4.3 M4.3,0 H9" stroke="#666" stroke-width="3.0" fill="none" stroke-linecap="round" stroke-linejoin="round"/>
<path transform="translate(663.8,811.6) rotate(-90) scale(0.91)" d="M-6.8,-15.8 H6.8 M-6.8,-15.8 V-12.2 M6.8,-15.8 V-12.2 M0,-15.8 V0 M-3.6,0 H3.6" stroke="#5cc3f7" stroke-width="3.2" fill="none" stroke-linecap="round" stroke-linejoin="round"/>
<path transform="translate(663.8,791.4) rotate(-90) scale(0.91)" d="M6.4,-12.6 C5.2,-15 3.2,-16.3 0.3,-16.3 C-4.3,-16.3 -6.8,-12.6 -6.8,-8 C-6.8,-3.4 -4.3,0.3 0.3,0.3 C3,0.3 5.1,-0.4 6.8,-1.4 V-7.4 H2.6 M6.4,-16.6 V-11.6" stroke="#666" stroke-width="3.0" fill="none" stroke-linecap="round" stroke-linejoin="round"/>
<path transform="translate(692.6,831.6) rotate(-90) scale(0.91)" d="M-6.6,0 L-0.6,-15.8 L0.6,-15.8 L6.6,0 M-4.8,-15.8 H0.2 M-4.1,-5.6 H4.1 M-9,0 H-4.3 M4.3,0 H9" stroke="#666" stroke-width="3.0" fill="none" stroke-linecap="round" stroke-linejoin="round"/>
<path transform="translate(692.6,811.6) rotate(-90) scale(0.91)" d="M-6.8,-15.8 H6.8 M-6.8,-15.8 V-12.2 M6.8,-15.8 V-12.2 M0,-15.8 V0 M-3.6,0 H3.6" stroke="#5cc3f7" stroke-width="3.2" fill="none" stroke-linecap="round" stroke-linejoin="round"/>
<path transform="translate(692.6,791.4) rotate(-90) scale(0.91)" d="M-6.8,-15.8 H6.8 M-6.8,-15.8 V-12.2 M6.8,-15.8 V-12.2 M0,-15.8 V0 M-3.6,0 H3.6" stroke="#666" stroke-width="3.0" fill="none" stroke-linecap="round" stroke-linejoin="round"/>
<path transform="translate(721.5,831.6) rotate(-90) scale(0.91)" d="M6.4,-12.6 C5.2,-15 3.2,-16.3 0.3,-16.3 C-4.3,-16.3 -6.8,-12.6 -6.8,-8 C-6.8,-3.4 -4.3,0.3 0.3,0.3 C3,0.3 5.2,-0.9 6.8,-3.3 M6.4,-16.6 V-11.6" stroke="#666" stroke-width="3.0" fill="none" stroke-linecap="round" stroke-linejoin="round"/>
<path transform="translate(721.5,811.6) rotate(-90) scale(0.91)" d="M-6.8,-15.8 H6.8 M-6.8,-15.8 V-12.2 M6.8,-15.8 V-12.2 M0,-15.8 V0 M-3.6,0 H3.6" stroke="#5cc3f7" stroke-width="3.2" fill="none" stroke-linecap="round" stroke-linejoin="round"/>
<path transform="translate(721.5,791.4) rotate(-90) scale(0.91)" d="M-6.6,0 L-0.6,-15.8 L0.6,-15.8 L6.6,0 M-4.8,-15.8 H0.2 M-4.1,-5.6 H4.1 M-9,0 H-4.3 M4.3,0 H9" stroke="#666" stroke-width="3.0" fill="none" stroke-linecap="round" stroke-linejoin="round"/>
<path transform="translate(750.3,831.6) rotate(-90) scale(0.91)" d="M6.4,-12.6 C5.2,-15 3.2,-16.3 0.3,-16.3 C-4.3,-16.3 -6.8,-12.6 -6.8,-8 C-6.8,-3.4 -4.3,0.3 0.3,0.3 C3,0.3 5.2,-0.9 6.8,-3.3 M6.4,-16.6 V-11.6" stroke="#666" stroke-width="3.0" fill="none" stroke-linecap="round" stroke-linejoin="round"/>
<path transform="translate(750.3,811.6) rotate(-90) scale(0.91)" d="M-6.8,-15.8 H6.8 M-6.8,-15.8 V-12.2 M6.8,-15.8 V-12.2 M0,-15.8 V0 M-3.6,0 H3.6" stroke="#5cc3f7" stroke-width="3.2" fill="none" stroke-linecap="round" stroke-linejoin="round"/>
<path transform="translate(750.3,791.4) rotate(-90) scale(0.91)" d="M6.4,-12.6 C5.2,-15 3.2,-16.3 0.3,-16.3 C-4.3,-16.3 -6.8,-12.6 -6.8,-8 C-6.8,-3.4 -4.3,0.3 0.3,0.3 C3,0.3 5.2,-0.9 6.8,-3.3 M6.4,-16.6 V-11.6" stroke="#666" stroke-width="3.0" fill="none" stroke-linecap="round" stroke-linejoin="round"/>
<path transform="translate(779.1,831.6) rotate(-90) scale(0.91)" d="M6.4,-12.6 C5.2,-15 3.2,-16.3 0.3,-16.3 C-4.3,-16.3 -6.8,-12.6 -6.8,-8 C-6.8,-3.4 -4.3,0.3 0.3,0.3 C3,0.3 5.2,-0.9 6.8,-3.3 M6.4,-16.6 V-11.6" stroke="#666" stroke-width="3.0" fill="none" stroke-linecap="round" stroke-linejoin="round"/>
<path transform="translate(779.1,811.6) rotate(-90) scale(0.91)" d="M-6.8,-15.8 H6.8 M-6.8,-15.8 V-12.2 M6.8,-15.8 V-12.2 M0,-15.8 V0 M-3.6,0 H3.6" stroke="#5cc3f7" stroke-width="3.2" fill="none" stroke-linecap="round" stroke-linejoin="round"/>
<path transform="translate(779.1,791.4) rotate(-90) scale(0.91)" d="M6.4,-12.6 C5.2,-15 3.2,-16.3 0.3,-16.3 C-4.3,-16.3 -6.8,-12.6 -6.8,-8 C-6.8,-3.4 -4.3,0.3 0.3,0.3 C3,0.3 5.1,-0.4 6.8,-1.4 V-7.4 H2.6 M6.4,-16.6 V-11.6" stroke="#666" stroke-width="3.0" fill="none" stroke-linecap="round" stroke-linejoin="round"/>
<path transform="translate(808.0,831.6) rotate(-90) scale(0.91)" d="M6.4,-12.6 C5.2,-15 3.2,-16.3 0.3,-16.3 C-4.3,-16.3 -6.8,-12.6 -6.8,-8 C-6.8,-3.4 -4.3,0.3 0.3,0.3 C3,0.3 5.2,-0.9 6.8,-3.3 M6.4,-16.6 V-11.6" stroke="#666" stroke-width="3.0" fill="none" stroke-linecap="round" stroke-linejoin="round"/>
<path transform="translate(808.0,811.6) rotate(-90) scale(0.91)" d="M-6.8,-15.8 H6.8 M-6.8,-15.8 V-12.2 M6.8,-15.8 V-12.2 M0,-15.8 V0 M-3.6,0 H3.6" stroke="#5cc3f7" stroke-width="3.2" fill="none" stroke-linecap="round" stroke-linejoin="round"/>
<path transform="translate(808.0,791.4) rotate(-90) scale(0.91)" d="M-6.8,-15.8 H6.8 M-6.8,-15.8 V-12.2 M6.8,-15.8 V-12.2 M0,-15.8 V0 M-3.6,0 H3.6" stroke="#666" stroke-width="3.0" fill="none" stroke-linecap="round" stroke-linejoin="round"/>
<path transform="translate(836.8,831.6) rotate(-90) scale(0.91)" d="M6.4,-12.6 C5.2,-15 3.2,-16.3 0.3,-16.3 C-4.3,-16.3 -6.8,-12.6 -6.8,-8 C-6.8,-3.4 -4.3,0.3 0.3,0.3 C3,0.3 5.1,-0.4 6.8,-1.4 V-7.4 H2.6 M6.4,-16.6 V-11.6" stroke="#666" stroke-width="3.0" fill="none" stroke-linecap="round" stroke-linejoin="round"/>
<path transform="translate(836.8,811.6) rotate(-90) scale(0.91)" d="M-6.8,-15.8 H6.8 M-6.8,-15.8 V-12.2 M6.8,-15.8 V-12.2 M0,-15.8 V0 M-3.6,0 H3.6" stroke="#5cc3f7" stroke-width="3.2" fill="none" stroke-linecap="round" stroke-linejoin="round"/>
<path transform="translate(836.8,791.4) rotate(-90) scale(0.91)" d="M-6.6,0 L-0.6,-15.8 L0.6,-15.8 L6.6,0 M-4.8,-15.8 H0.2 M-4.1,-5.6 H4.1 M-9,0 H-4.3 M4.3,0 H9" stroke="#666" stroke-width="3.0" fill="none" stroke-linecap="round" stroke-linejoin="round"/>
<path transform="translate(865.7,831.6) rotate(-90) scale(0.91)" d="M6.4,-12.6 C5.2,-15 3.2,-16.3 0.3,-16.3 C-4.3,-16.3 -6.8,-12.6 -6.8,-8 C-6.8,-3.4 -4.3,0.3 0.3,0.3 C3,0.3 5.1,-0.4 6.8,-1.4 V-7.4 H2.6 M6.4,-16.6 V-11.6" stroke="#666" stroke-width="3.0" fill="none" stroke-linecap="round" stroke-linejoin="round"/>
<path transform="translate(865.7,811.6) rotate(-90) scale(0.91)" d="M-6.8,-15.8 H6.8 M-6.8,-15.8 V-12.2 M6.8,-15.8 V-12.2 M0,-15.8 V0 M-3.6,0 H3.6" stroke="#5cc3f7" stroke-width="3.2" fill="none" stroke-linecap="round" stroke-linejoin="round"/>
<path transform="translate(865.7,791.4) rotate(-90) scale(0.91)" d="M6.4,-12.6 C5.2,-15 3.2,-16.3 0.3,-16.3 C-4.3,-16.3 -6.8,-12.6 -6.8,-8 C-6.8,-3.4 -4.3,0.3 0.3,0.3 C3,0.3 5.2,-0.9 6.8,-3.3 M6.4,-16.6 V-11.6" stroke="#666" stroke-width="3.0" fill="none" stroke-linecap="round" stroke-linejoin="round"/>
<path transform="translate(894.5,831.6) rotate(-90) scale(0.91)" d="M6.4,-12.6 C5.2,-15 3.2,-16.3 0.3,-16.3 C-4.3,-16.3 -6.8,-12.6 -6.8,-8 C-6.8,-3.4 -4.3,0.3 0.3,0.3 C3,0.3 5.1,-0.4 6.8,-1.4 V-7.4 H2.6 M6.4,-16.6 V-11.6" stroke="#666" stroke-width="3.0" fill="none" stroke-linecap="round" stroke-linejoin="round"/>
<path transform="translate(894.5,811.6) rotate(-90) scale(0.91)" d="M-6.8,-15.8 H6.8 M-6.8,-15.8 V-12.2 M6.8,-15.8 V-12.2 M0,-15.8 V0 M-3.6,0 H3.6" stroke="#5cc3f7" stroke-width="3.2" fill="none" stroke-linecap="round" stroke-linejoin="round"/>
<path transform="translate(894.5,791.4) rotate(-90) scale(0.91)" d="M6.4,-12.6 C5.2,-15 3.2,-16.3 0.3,-16.3 C-4.3,-16.3 -6.8,-12.6 -6.8,-8 C-6.8,-3.4 -4.3,0.3 0.3,0.3 C3,0.3 5.1,-0.4 6.8,-1.4 V-7.4 H2.6 M6.4,-16.6 V-11.6" stroke="#666" stroke-width="3.0" fill="none" stroke-linecap="round" stroke-linejoin="round"/>
<path transform="translate(923.3,831.6) rotate(-90) scale(0.91)" d="M6.4,-12.6 C5.2,-15 3.2,-16.3 0.3,-16.3 C-4.3,-16.3 -6.8,-12.6 -6.8,-8 C-6.8,-3.4 -4.3,0.3 0.3,0.3 C3,0.3 5.1,-0.4 6.8,-1.4 V-7.4 H2.6 M6.4,-16.6 V-11.6" stroke="#666" stroke-width="3.0" fill="none" stroke-linecap="round" stroke-linejoin="round"/>
<path transform="translate(923.3,811.6) rotate(-90) scale(0.91)" d="M-6.8,-15.8 H6.8 M-6.8,-15.8 V-12.2 M6.8,-15.8 V-12.2 M0,-15.8 V0 M-3.6,0 H3.6" stroke="#5cc3f7" stroke-width="3.2" fill="none" stroke-linecap="round" stroke-linejoin="round"/>
<path transform="translate(923.3,791.4) rotate(-90) scale(0.91)" d="M-6.8,-15.8 H6.8 M-6.8,-15.8 V-12.2 M6.8,-15.8 V-12.2 M0,-15.8 V0 M-3.6,0 H3.6" stroke="#666" stroke-width="3.0" fill="none" stroke-linecap="round" stroke-linejoin="round"/>
<path transform="translate(952.2,831.6) rotate(-90) scale(0.91)" d="M-6.8,-15.8 H6.8 M-6.8,-15.8 V-12.2 M6.8,-15.8 V-12.2 M0,-15.8 V0 M-3.6,0 H3.6" stroke="#666" stroke-width="3.0" fill="none" stroke-linecap="round" stroke-linejoin="round"/>
<path transform="translate(952.2,811.6) rotate(-90) scale(0.91)" d="M-6.8,-15.8 H6.8 M-6.8,-15.8 V-12.2 M6.8,-15.8 V-12.2 M0,-15.8 V0 M-3.6,0 H3.6" stroke="#5cc3f7" stroke-width="3.2" fill="none" stroke-linecap="round" stroke-linejoin="round"/>
<path transform="translate(952.2,791.4) rotate(-90) scale(0.91)" d="M-6.6,0 L-0.6,-15.8 L0.6,-15.8 L6.6,0 M-4.8,-15.8 H0.2 M-4.1,-5.6 H4.1 M-9,0 H-4.3 M4.3,0 H9" stroke="#666" stroke-width="3.0" fill="none" stroke-linecap="round" stroke-linejoin="round"/>
<path transform="translate(981.0,831.6) rotate(-90) scale(0.91)" d="M-6.8,-15.8 H6.8 M-6.8,-15.8 V-12.2 M6.8,-15.8 V-12.2 M0,-15.8 V0 M-3.6,0 H3.6" stroke="#666" stroke-width="3.0" fill="none" stroke-linecap="round" stroke-linejoin="round"/>
<path transform="translate(981.0,811.6) rotate(-90) scale(0.91)" d="M-6.8,-15.8 H6.8 M-6.8,-15.8 V-12.2 M6.8,-15.8 V-12.2 M0,-15.8 V0 M-3.6,0 H3.6" stroke="#5cc3f7" stroke-width="3.2" fill="none" stroke-linecap="round" stroke-linejoin="round"/>
<path transform="translate(981.0,791.4) rotate(-90) scale(0.91)" d="M6.4,-12.6 C5.2,-15 3.2,-16.3 0.3,-16.3 C-4.3,-16.3 -6.8,-12.6 -6.8,-8 C-6.8,-3.4 -4.3,0.3 0.3,0.3 C3,0.3 5.2,-0.9 6.8,-3.3 M6.4,-16.6 V-11.6" stroke="#666" stroke-width="3.0" fill="none" stroke-linecap="round" stroke-linejoin="round"/>
<path transform="translate(1009.9,831.6) rotate(-90) scale(0.91)" d="M-6.8,-15.8 H6.8 M-6.8,-15.8 V-12.2 M6.8,-15.8 V-12.2 M0,-15.8 V0 M-3.6,0 H3.6" stroke="#666" stroke-width="3.0" fill="none" stroke-linecap="round" stroke-linejoin="round"/>
<path transform="translate(1009.9,811.6) rotate(-90) scale(0.91)" d="M-6.8,-15.8 H6.8 M-6.8,-15.8 V-12.2 M6.8,-15.8 V-12.2 M0,-15.8 V0 M-3.6,0 H3.6" stroke="#5cc3f7" stroke-width="3.2" fill="none" stroke-linecap="round" stroke-linejoin="round"/>
<path transform="translate(1009.9,791.4) rotate(-90) scale(0.91)" d="M6.4,-12.6 C5.2,-15 3.2,-16.3 0.3,-16.3 C-4.3,-16.3 -6.8,-12.6 -6.8,-8 C-6.8,-3.4 -4.3,0.3 0.3,0.3 C3,0.3 5.1,-0.4 6.8,-1.4 V-7.4 H2.6 M6.4,-16.6 V-11.6" stroke="#666" stroke-width="3.0" fill="none" stroke-linecap="round" stroke-linejoin="round"/>
<path transform="translate(1038.7,831.6) rotate(-90) scale(0.91)" d="M-6.8,-15.8 H6.8 M-6.8,-15.8 V-12.2 M6.8,-15.8 V-12.2 M0,-15.8 V0 M-3.6,0 H3.6" stroke="#666" stroke-width="3.0" fill="none" stroke-linecap="round" stroke-linejoin="round"/>
<path transform="translate(1038.7,811.6) rotate(-90) scale(0.91)" d="M-6.8,-15.8 H6.8 M-6.8,-15.8 V-12.2 M6.8,-15.8 V-12.2 M0,-15.8 V0 M-3.6,0 H3.6" stroke="#5cc3f7" stroke-width="3.2" fill="none" stroke-linecap="round" stroke-linejoin="round"/>
<path transform="translate(1038.7,791.4) rotate(-90) scale(0.91)" d="M-6.8,-15.8 H6.8 M-6.8,-15.8 V-12.2 M6.8,-15.8 V-12.2 M0,-15.8 V0 M-3.6,0 H3.6" stroke="#666" stroke-width="3.0" fill="none" stroke-linecap="round" stroke-linejoin="round"/>
<text transform="translate(551.2,808.5) rotate(-90)" font-size="20.3" text-anchor="middle">From</text>
<text transform="translate(582.2,840) rotate(-90)" font-size="25.5" font-weight="bold">5</text>
<text transform="translate(582.2,799) rotate(-90)" font-size="25.5" font-weight="bold">3</text>
<path d="M561.4,776.2 L567.8,780.4 M561.4,816.9 L567.8,821.1" stroke="#000" stroke-width="2.6" stroke-linecap="round"/>
<defs>
<linearGradient id="fadeB" x1="0" y1="0" x2="1" y2="0"><stop offset="0" stop-color="#2b4c9e" stop-opacity="0"/><stop offset="1" stop-color="#2b4c9e"/></linearGradient>
<linearGradient id="fadeBR" x1="1" y1="0" x2="0" y2="0"><stop offset="0" stop-color="#2b4c9e" stop-opacity="0"/><stop offset="1" stop-color="#2b4c9e"/></linearGradient>
<linearGradient id="fadeY" x1="0" y1="0" x2="1" y2="0"><stop offset="0" stop-color="#cfa800" stop-opacity="0"/><stop offset="1" stop-color="#cfa800"/></linearGradient>
<linearGradient id="fadeYR" x1="1" y1="0" x2="0" y2="0"><stop offset="0" stop-color="#cfa800" stop-opacity="0"/><stop offset="1" stop-color="#cfa800"/></linearGradient>
<linearGradient id="pinkD" x1="0" y1="0" x2="1" y2="0"><stop offset="0" stop-color="#f6c9c9"/><stop offset="1" stop-color="#f08f8f"/></linearGradient>
<linearGradient id="dotL" x1="0" y1="0" x2="1" y2="0"><stop offset="0" stop-color="#000" stop-opacity="0.3"/><stop offset="1" stop-color="#000"/></linearGradient>
</defs>
<line x1="43.4" y1="683.4" x2="51.0" y2="683.4" stroke="#000" stroke-width="1.8" stroke-dasharray="1.3 1.3"/>
<line x1="51.0" y1="683.4" x2="65.0" y2="683.4" stroke="#000" stroke-width="1.8" stroke-dasharray="3.5 1.3"/>
<line x1="65.0" y1="683.4" x2="89.4" y2="683.4" stroke="#000" stroke-width="1.8" />
<polygon points="97.40,683.40 83.40,677.90 86.90,683.40 83.40,688.90" fill="#000"/>
<text x="117.5" y="692.1" font-size="25" >RFD</text>
<line x1="58.5" y1="727.9" x2="89.5" y2="727.9" stroke="#cfa800" stroke-width="2.4" />
<polygon points="91.5,729.1 81.1,719.1999999999999 81.1,729.1" fill="#cfa800"/>
<line x1="58.5" y1="747.5" x2="89.5" y2="747.5" stroke="#2b4c9e" stroke-width="2.4" />
<polygon points="91.5,748.7 81.1,738.8 81.1,748.7" fill="#2b4c9e"/>
<text x="118.4" y="745.7" font-size="25" textLength="268.8">DNA synthesis direction</text>
<line x1="147.2" y1="835.5" x2="147.2" y2="1116" stroke="#bdbdbd" stroke-width="2.6" stroke-dasharray="5 3"/>
<line x1="459.5" y1="835.5" x2="459.5" y2="1116" stroke="#bdbdbd" stroke-width="2.6" stroke-dasharray="5 3"/>
<text x="107.2" y="821.9" font-size="25" >Origin</text>
<text x="428" y="823" font-size="25" >Origin</text>
<text x="22.9" y="874.8" font-size="25" >Forward</text>
<text x="22.9" y="905.0" font-size="25" >strand</text>
<text x="22.9" y="935.1999999999999" font-size="25" >lesions</text>
<text x="22.9" y="1005.8" font-size="25" >Reverse</text>
<text x="22.9" y="1035.8999999999999" font-size="25" >strand</text>
<text x="22.9" y="1066.0" font-size="25" >lesions</text>
<path d="M150,895.2 C205,895 247,920 259.6,959.1 L346.4,959.1 C359,920 401,895 456.5,895.2" stroke="#2b4c9e" stroke-width="2.4" fill="none"/>
<rect x="112" y="894" width="39" height="2.4" fill="url(#fadeB)"/>
<rect x="455.5" y="894" width="38" height="2.4" fill="url(#fadeBR)"/>
<path d="M150,1044.5 C207,1044.7 250,1020 260.2,977.9 L346.6,977.9 C356.8,1020 399,1044.7 456.5,1044.5" stroke="#cfa800" stroke-width="2.4" fill="none"/>
<rect x="112" y="1043.3" width="39" height="2.4" fill="url(#fadeY)"/>
<rect x="455.5" y="1043.3" width="38" height="2.4" fill="url(#fadeYR)"/>
<path d="M137.4,911.6 L147.2,911.6" stroke="#2b4c9e" stroke-width="2.4" fill="none" stroke-linecap="butt"/>
<path d="M122,911.6 L137.5,911.6" stroke="url(#fadeB)" stroke-width="2.4"/>
<path d="M155,912.2 L169.5,913.4" stroke="#2b4c9e" stroke-width="2.4" fill="none" stroke-linecap="butt"/>
<polygon points="151.5,912.1 162.7,919.6 163.0,911.4" fill="#2b4c9e" fill-opacity="1"/>
<path d="M184.5,915.6 L188.5,915.8" stroke="#2b4c9e" stroke-width="2.4" fill="none" stroke-linecap="butt"/>
<path d="M197,918.5 C207,922 217,928 224.4,935.5" stroke="#2b4c9e" stroke-width="2.4" fill="none" stroke-linecap="butt"/>
<polygon points="192.5,916.8 200.6,927.6 203.6,920.0" fill="#2b4c9e" fill-opacity="1"/>
<path d="M231.5,943 C235.5,948 238.8,953 241.3,958.5" stroke="#2b4c9e" stroke-width="2.4" fill="none" stroke-linecap="butt"/>
<polygon points="229.5,939.8 230.8,953.2 237.4,948.3" fill="#2b4c9e" fill-opacity="1"/>
<circle cx="176.8" cy="914.6" r="7.3" fill="#fff" stroke="#2b4c9e" stroke-width="2.4" />
<circle cx="128" cy="912.6" r="7.3" fill="#fff" stroke="#2b4c9e" stroke-width="2.4" stroke-opacity="0.3"/>
<path d="M370,953.5 C381,940 393,930 401.5,925 C420,914 437,912 449,911.8 L459.6,911.8" stroke="#2b4c9e" stroke-width="2.4" fill="none" stroke-linecap="butt"/>
<polygon points="363.4,961.7 376.0,956.9 369.5,951.9" fill="#2b4c9e" fill-opacity="1"/>
<path d="M466,912.3 L484,912.6" stroke="url(#fadeBR)" stroke-width="2.4"/>
<polygon points="463.5,912.2 475.0,919.2 475.0,911.0" fill="#2b4c9e" fill-opacity="0.6"/>
<circle cx="401.5" cy="924.9" r="7.5" fill="#fff" stroke="#2b4c9e" stroke-width="2.4" />
<circle cx="449.2" cy="911.7" r="7.5" fill="#fff" stroke="#2b4c9e" stroke-width="2.4" />
<path d="M147.2,1028.7 C175,1028 205,1019 220.8,1007.3 C230,1000 237,990 241,980" stroke="#cfa800" stroke-width="2.4" fill="none" stroke-linecap="butt"/>
<polygon points="244.0,973.5 232.6,980.7 239.9,984.3" fill="#cfa800" fill-opacity="1"/>
<path d="M115,1025.7 L140,1027.5" stroke="url(#fadeY)" stroke-width="2.4"/>
<polygon points="145.0,1028.0 133.9,1020.4 133.5,1028.6" fill="#cfa800" fill-opacity="0.6"/>
<circle cx="220.8" cy="1007.3" r="7.5" fill="#fff" stroke="#cfa800" stroke-width="2.4" />
<circle cx="122.6" cy="1025.7" r="7.5" fill="#fff" stroke="#cfa800" stroke-width="2.4" stroke-opacity="0.3"/>
<path d="M366,981.2 L373.5,992" stroke="#cfa800" stroke-width="2.4" fill="none" stroke-linecap="butt"/>
<polygon points="377.2,998.4 377.7,984.9 370.6,988.9" fill="#cfa800" fill-opacity="1"/>
<path d="M383,1002.5 L395,1011.5 L408,1018.2" stroke="#cfa800" stroke-width="2.4" fill="none" stroke-linecap="butt"/>
<polygon points="414.2,1021.2 407.0,1009.8 403.4,1017.1" fill="#cfa800" fill-opacity="1"/>
<path d="M420,1022.3 L434.9,1026 L449,1027.8" stroke="#cfa800" stroke-width="2.4" fill="none" stroke-linecap="butt"/>
<polygon points="455.2,1028.5 444.7,1020.1 443.6,1028.3" fill="#cfa800" fill-opacity="1"/>
<circle cx="395" cy="1011.5" r="8" fill="#fff" stroke="#cfa800" stroke-width="2.4" />
<circle cx="434.9" cy="1026" r="8" fill="#fff" stroke="#cfa800" stroke-width="2.4" />
<path d="M459.5,1028.5 L472,1028.3" stroke="#cfa800" stroke-opacity="0.5" stroke-width="2.4"/>
<circle cx="479.5" cy="1028" r="7.5" fill="#fff" stroke="#cfa800" stroke-width="2.4" stroke-opacity="0.3"/>
<polygon points="177.1,875.8 191.8,875.8 180.3,904" fill="#e32321" />
<polygon points="269.4,935.5 284.5,935.5 277,963.4" fill="#e32321" />
<polygon points="294.3,998.7 309.4,998.7 301.5,970.4" fill="#e32321" />
<polygon points="380.8,894.2 394.5,888.5 397.7,916" fill="#e32321" />
<polygon points="438.5,874.9 453,874.9 448.9,902.8" fill="#e32321" />
<polygon points="226.9,1016.4 234.2,1042.2 246.5,1033.6" fill="#e32321" />
<polygon points="390.3,1020.2 372.2,1038.5 385.1,1045.5" fill="#e32321" />
<polygon points="433.9,1035.8 420.4,1058.6 435.3,1062.1" fill="#e32321" />
<polygon points="115.3,874.6 130,874.6 127.5,902.8" fill="url(#pinkD)" opacity="0.6"/>
<polygon points="121.4,1034.8 114.5,1061.8 124.5,1061.8" fill="url(#pinkD)" opacity="0.5"/>
<polygon points="482.6,1038.9 477.5,1067 492,1067" fill="url(#pinkD)" opacity="0.5"/>
<line x1="176.6" y1="969" x2="183.9" y2="969" stroke="#000" stroke-width="1.8" stroke-dasharray="1.3 1.3"/>
<line x1="183.9" y1="969" x2="197.6" y2="969" stroke="#000" stroke-width="1.8" stroke-dasharray="3.5 1.3"/>
<line x1="197.56" y1="969" x2="221" y2="969" stroke="#000" stroke-width="1.8" />
<polygon points="229.00,969.00 216.50,963.50 219.62,969.00 216.50,974.50" fill="#000"/>
<line x1="423.8" y1="969" x2="416.4" y2="969" stroke="#000" stroke-width="1.8" stroke-dasharray="1.3 1.3"/>
<line x1="416.4" y1="969" x2="402.6" y2="969" stroke="#000" stroke-width="1.8" stroke-dasharray="3.5 1.3"/>
<line x1="378.9" y1="969" x2="402.64" y2="969" stroke="#000" stroke-width="1.8" />
<polygon points="370.90,969.00 383.40,974.50 380.27,969.00 383.40,963.50" fill="#000"/>
<text transform="translate(178,845.5) rotate(27)" font-size="25">Lagging</text>
<text transform="translate(340.5,887) rotate(-27)" font-size="25">Leading</text>
<text transform="translate(187.7,1102.5) rotate(-27)" font-size="25">Leading</text>
<text transform="translate(327,1061) rotate(27)" font-size="25">Lagging</text>
<line x1="130.7" y1="1261.3" x2="462.4" y2="1261.3" stroke="#c8c8c8" stroke-width="2" />
<rect x="157.3" y="1206.3" width="4.8" height="54.9" fill="#6699ff"/>
<rect x="178.1" y="1238.0" width="4.8" height="23.2" fill="#6699ff"/>
<rect x="194.7" y="1245.8" width="4.8" height="15.4" fill="#6699ff"/>
<rect x="210.0" y="1249.2" width="4.8" height="12.0" fill="#6699ff"/>
<rect x="223.2" y="1256.9" width="4.8" height="4.3" fill="#6699ff"/>
<rect x="243.6" y="1254.3" width="4.8" height="6.9" fill="#6699ff"/>
<rect x="261.3" y="1251.3" width="4.8" height="9.9" fill="#6699ff"/>
<rect x="277.9" y="1249.6" width="4.8" height="11.6" fill="#6699ff"/>
<rect x="289.1" y="1248.6" width="4.8" height="12.6" fill="#6699ff"/>
<rect x="295.6" y="1258.1" width="4.8" height="3.1" fill="#6699ff"/>
<rect x="306.5" y="1261.2" width="4.8" height="8.2" fill="#6699ff"/>
<rect x="312.9" y="1261.2" width="4.8" height="9.9" fill="#6699ff"/>
<rect x="323.1" y="1261.2" width="4.8" height="5.7" fill="#6699ff"/>
<rect x="340.8" y="1261.2" width="4.8" height="3.4" fill="#6699ff"/>
<rect x="358.8" y="1261.2" width="4.8" height="3.4" fill="#6699ff"/>
<rect x="378.1" y="1261.2" width="4.8" height="2.4" fill="#6699ff"/>
<rect x="391.4" y="1261.2" width="4.8" height="7.7" fill="#6699ff"/>
<rect x="406.7" y="1261.2" width="4.8" height="13.7" fill="#6699ff"/>
<rect x="421.9" y="1261.2" width="4.8" height="25.7" fill="#6699ff"/>
<rect x="445.7" y="1261.2" width="4.8" height="48.0" fill="#6699ff"/>
<path d="M116.5,1209.9 H130.9 V1312.7 H116.5" stroke="#000" stroke-width="2.3" fill="none"/>
<line x1="116.5" y1="1261.3" x2="130.9" y2="1261.3" stroke="#000" stroke-width="2.3" />
<text x="113.8" y="1219.4" font-size="25" text-anchor="end" >0.6</text>
<text x="113.8" y="1271" font-size="25" text-anchor="end" >0</text>
<text x="113.8" y="1322.4" font-size="25" text-anchor="end" >–0.6</text>
<text transform="translate(34.3,1259) rotate(-90)" font-size="25" text-anchor="middle">Gene orientation</text>
<text transform="translate(62.5,1259.8) rotate(-90)" font-size="25" text-anchor="middle" textLength="98.1">bias (RE)</text>
<path d="M137.3,1193 V1180.8 H182" stroke="#000" stroke-width="2.3" fill="none"/>
<polygon points="191.30,1180.80 177.30,1175.05 180.80,1180.80 177.30,1186.55" fill="#000"/>
<text x="206.8" y="1189" font-size="25" >Plus (reverse template)</text>
<text x="135.3" y="1345.5" font-size="25" >Minus (forward template)</text>
<path d="M478.4,1329.3 V1340.2 H433" stroke="#000" stroke-width="2.3" fill="none"/>
<polygon points="424.00,1340.20 438.00,1345.95 434.50,1340.20 438.00,1334.45" fill="#000"/>
<path d="M150.6,1381.5 V1367.5 H456.3 V1381.5 M303.4,1367.5 V1381.5" stroke="#000" stroke-width="2.2" fill="none"/>
<text x="152" y="1409.3" font-size="25" text-anchor="middle" >0.6</text>
<text x="303.5" y="1409.3" font-size="25" text-anchor="middle" >0</text>
<text x="456" y="1409.3" font-size="25" text-anchor="middle" >–0.6</text>
<line x1="193.0" y1="1399" x2="200.4" y2="1399" stroke="#000" stroke-width="1.8" stroke-dasharray="1.3 1.3"/>
<line x1="200.4" y1="1399" x2="214.1" y2="1399" stroke="#000" stroke-width="1.8" stroke-dasharray="3.5 1.3"/>
<line x1="214.07999999999998" y1="1399" x2="237.7" y2="1399" stroke="#000" stroke-width="1.8" />
<polygon points="245.70,1399.00 233.20,1393.50 236.32,1399.00 233.20,1404.50" fill="#000"/>
<line x1="417.2" y1="1399" x2="409.6" y2="1399" stroke="#000" stroke-width="1.8" stroke-dasharray="1.3 1.3"/>
<line x1="409.6" y1="1399" x2="395.5" y2="1399" stroke="#000" stroke-width="1.8" stroke-dasharray="3.5 1.3"/>
<line x1="370.9" y1="1399" x2="395.47999999999996" y2="1399" stroke="#000" stroke-width="1.8" />
<polygon points="362.90,1399.00 375.40,1404.50 372.27,1399.00 375.40,1393.50" fill="#000"/>
<text x="305.8" y="1444.7" font-size="24.6" text-anchor="middle" >RFD bias</text>
<g transform="translate(0,0.7)">
<line x1="697.1" y1="971.0999999999999" x2="697.1" y2="979.5" stroke="#ff6608" stroke-width="1.7" />
<polygon points="697.1,972.0 699.7,975.3 697.1,978.6 694.5,975.3" fill="#ff6608"/>
<line x1="719.5" y1="972.3" x2="719.5" y2="980.7" stroke="#ff6608" stroke-width="1.7" />
<polygon points="719.5,973.2 722.1,976.5 719.5,979.8 716.9,976.5" fill="#ff6608"/>
<line x1="737.4" y1="969.8" x2="737.4" y2="978.2" stroke="#ff6608" stroke-width="1.7" />
<polygon points="737.4,970.7 740.0,974.0 737.4,977.3 734.8,974.0" fill="#ff6608"/>
<line x1="754" y1="972.3" x2="754" y2="980.7" stroke="#ff6608" stroke-width="1.7" />
<polygon points="754.0,973.2 756.6,976.5 754.0,979.8 751.4,976.5" fill="#ff6608"/>
<line x1="767.7" y1="970.3" x2="767.7" y2="978.7" stroke="#ff6608" stroke-width="1.7" />
<polygon points="767.7,971.2 770.3,974.5 767.7,977.8 765.1,974.5" fill="#ff6608"/>
<line x1="789.3" y1="970.3" x2="789.3" y2="978.7" stroke="#ff6608" stroke-width="1.7" />
<polygon points="789.3,971.2 791.9,974.5 789.3,977.8 786.7,974.5" fill="#ff6608"/>
<line x1="808.8" y1="966.9" x2="808.8" y2="975.3000000000001" stroke="#ff6608" stroke-width="1.7" />
<polygon points="808.8,967.8 811.4,971.1 808.8,974.4 806.2,971.1" fill="#ff6608"/>
<line x1="826.6" y1="960.6999999999999" x2="826.6" y2="969.1" stroke="#ff6608" stroke-width="1.7" />
<polygon points="826.6,961.6 829.2,964.9 826.6,968.2 824.0,964.9" fill="#ff6608"/>
<line x1="838.2" y1="959.9" x2="838.2" y2="968.3000000000001" stroke="#ff6608" stroke-width="1.7" />
<polygon points="838.2,960.8 840.8,964.1 838.2,967.4 835.6,964.1" fill="#ff6608"/>
<line x1="846.1" y1="958.5999999999999" x2="846.1" y2="967.0" stroke="#ff6608" stroke-width="1.7" />
<polygon points="846.1,959.5 848.7,962.8 846.1,966.1 843.5,962.8" fill="#ff6608"/>
<line x1="851.5" y1="959.5" x2="851.5" y2="967.9000000000001" stroke="#ff6608" stroke-width="1.7" />
<polygon points="851.5,960.4 854.1,963.7 851.5,967.0 848.9,963.7" fill="#ff6608"/>
<line x1="857.7" y1="961.5" x2="857.7" y2="969.9000000000001" stroke="#ff6608" stroke-width="1.7" />
<polygon points="857.7,962.4 860.3,965.7 857.7,969.0 855.1,965.7" fill="#ff6608"/>
<line x1="864" y1="961.5" x2="864" y2="969.9000000000001" stroke="#ff6608" stroke-width="1.7" />
<polygon points="864.0,962.4 866.6,965.7 864.0,969.0 861.4,965.7" fill="#ff6608"/>
<line x1="875.2" y1="965.6999999999999" x2="875.2" y2="974.1" stroke="#ff6608" stroke-width="1.7" />
<polygon points="875.2,966.6 877.8,969.9 875.2,973.2 872.6,969.9" fill="#ff6608"/>
<line x1="893.9" y1="966.9" x2="893.9" y2="975.3000000000001" stroke="#ff6608" stroke-width="1.7" />
<polygon points="893.9,967.8 896.5,971.1 893.9,974.4 891.3,971.1" fill="#ff6608"/>
<line x1="913" y1="966.9" x2="913" y2="975.3000000000001" stroke="#ff6608" stroke-width="1.7" />
<polygon points="913.0,967.8 915.6,971.1 913.0,974.4 910.4,971.1" fill="#ff6608"/>
<line x1="933.7" y1="965.6999999999999" x2="933.7" y2="974.1" stroke="#ff6608" stroke-width="1.7" />
<polygon points="933.7,966.6 936.3,969.9 933.7,973.2 931.1,969.9" fill="#ff6608"/>
<line x1="949.1" y1="969.0" x2="949.1" y2="977.4000000000001" stroke="#ff6608" stroke-width="1.7" />
<polygon points="949.1,969.9 951.7,973.2 949.1,976.5 946.5,973.2" fill="#ff6608"/>
<line x1="964.8" y1="964.9" x2="964.8" y2="973.3000000000001" stroke="#ff6608" stroke-width="1.7" />
<polygon points="964.8,965.8 967.4,969.1 964.8,972.4 962.2,969.1" fill="#ff6608"/>
<line x1="980.6" y1="963.5999999999999" x2="980.6" y2="972.0" stroke="#ff6608" stroke-width="1.7" />
<polygon points="980.6,964.5 983.2,967.8 980.6,971.1 978.0,967.8" fill="#ff6608"/>
<line x1="1006.8" y1="962.8" x2="1006.8" y2="971.2" stroke="#ff6608" stroke-width="1.7" />
<polygon points="1006.8,963.7 1009.4,967.0 1006.8,970.3 1004.2,967.0" fill="#ff6608"/>
<line x1="697.1" y1="1038.8" x2="697.1" y2="1043.8" stroke="#c9a606" stroke-width="1.7" />
<polygon points="697.1,1038.0 699.7,1041.3 697.1,1044.6 694.5,1041.3" fill="#c9a606"/>
<line x1="719.5" y1="1024.7" x2="719.5" y2="1029.7" stroke="#c9a606" stroke-width="1.7" />
<polygon points="719.5,1023.9 722.1,1027.2 719.5,1030.5 716.9,1027.2" fill="#c9a606"/>
<line x1="737.4" y1="1020.5" x2="737.4" y2="1025.5" stroke="#c9a606" stroke-width="1.7" />
<polygon points="737.4,1019.7 740.0,1023.0 737.4,1026.3 734.8,1023.0" fill="#c9a606"/>
<line x1="754" y1="1017.2" x2="754" y2="1022.2" stroke="#c9a606" stroke-width="1.7" />
<polygon points="754.0,1016.4 756.6,1019.7 754.0,1023.0 751.4,1019.7" fill="#c9a606"/>
<line x1="767.7" y1="1012.2" x2="767.7" y2="1017.2" stroke="#c9a606" stroke-width="1.7" />
<polygon points="767.7,1011.4 770.3,1014.7 767.7,1018.0 765.1,1014.7" fill="#c9a606"/>
<line x1="789.3" y1="1008.1" x2="789.3" y2="1013.1" stroke="#c9a606" stroke-width="1.7" />
<polygon points="789.3,1007.3 791.9,1010.6 789.3,1013.9 786.7,1010.6" fill="#c9a606"/>
<line x1="808.8" y1="1000.6" x2="808.8" y2="1005.6" stroke="#c9a606" stroke-width="1.7" />
<polygon points="808.8,999.8 811.4,1003.1 808.8,1006.4 806.2,1003.1" fill="#c9a606"/>
<line x1="826.6" y1="987.7" x2="826.6" y2="992.7" stroke="#c9a606" stroke-width="1.7" />
<polygon points="826.6,986.9 829.2,990.2 826.6,993.5 824.0,990.2" fill="#c9a606"/>
<line x1="838.2" y1="984.4" x2="838.2" y2="989.4" stroke="#c9a606" stroke-width="1.7" />
<polygon points="838.2,983.6 840.8,986.9 838.2,990.2 835.6,986.9" fill="#c9a606"/>
<line x1="846.1" y1="979.4" x2="846.1" y2="984.4" stroke="#c9a606" stroke-width="1.7" />
<polygon points="846.1,978.6 848.7,981.9 846.1,985.2 843.5,981.9" fill="#c9a606"/>
<line x1="851.5" y1="976.9" x2="851.5" y2="981.9" stroke="#c9a606" stroke-width="1.7" />
<polygon points="851.5,976.1 854.1,979.4 851.5,982.7 848.9,979.4" fill="#c9a606"/>
<line x1="857.7" y1="979.0" x2="857.7" y2="984.0" stroke="#c9a606" stroke-width="1.7" />
<polygon points="857.7,978.2 860.3,981.5 857.7,984.8 855.1,981.5" fill="#c9a606"/>
<line x1="864" y1="982.7" x2="864" y2="987.7" stroke="#c9a606" stroke-width="1.7" />
<polygon points="864.0,981.9 866.6,985.2 864.0,988.5 861.4,985.2" fill="#c9a606"/>
<line x1="875.2" y1="987.3" x2="875.2" y2="992.3" stroke="#c9a606" stroke-width="1.7" />
<polygon points="875.2,986.5 877.8,989.8 875.2,993.1 872.6,989.8" fill="#c9a606"/>
<line x1="893.9" y1="997.7" x2="893.9" y2="1002.7" stroke="#c9a606" stroke-width="1.7" />
<polygon points="893.9,996.9 896.5,1000.2 893.9,1003.5 891.3,1000.2" fill="#c9a606"/>
<line x1="913" y1="1001.8" x2="913" y2="1006.8" stroke="#c9a606" stroke-width="1.7" />
<polygon points="913.0,1001.0 915.6,1004.3 913.0,1007.6 910.4,1004.3" fill="#c9a606"/>
<line x1="933.7" y1="1007.2" x2="933.7" y2="1012.2" stroke="#c9a606" stroke-width="1.7" />
<polygon points="933.7,1006.4 936.3,1009.7 933.7,1013.0 931.1,1009.7" fill="#c9a606"/>
<line x1="949.1" y1="1009.7" x2="949.1" y2="1014.7" stroke="#c9a606" stroke-width="1.7" />
<polygon points="949.1,1008.9 951.7,1012.2 949.1,1015.5 946.5,1012.2" fill="#c9a606"/>
<line x1="964.8" y1="1007.2" x2="964.8" y2="1012.2" stroke="#c9a606" stroke-width="1.7" />
<polygon points="964.8,1006.4 967.4,1009.7 964.8,1013.0 962.2,1009.7" fill="#c9a606"/>
<line x1="980.6" y1="1000.6" x2="980.6" y2="1005.6" stroke="#c9a606" stroke-width="1.7" />
<polygon points="980.6,999.8 983.2,1003.1 980.6,1006.4 978.0,1003.1" fill="#c9a606"/>
<line x1="1006.8" y1="986.5" x2="1006.8" y2="991.5" stroke="#c9a606" stroke-width="1.7" />
<polygon points="1006.8,985.7 1009.4,989.0 1006.8,992.3 1004.2,989.0" fill="#c9a606"/>
<line x1="697.1" y1="1179.9" x2="697.1" y2="1184.9" stroke="#8c5c08" stroke-width="1.7" />
<polygon points="697.1,1179.1 699.7,1182.4 697.1,1185.7 694.5,1182.4" fill="#8c5c08"/>
<line x1="719.5" y1="1134.3" x2="719.5" y2="1144.3" stroke="#8c5c08" stroke-width="1.7" />
<polygon points="719.5,1136.0 722.1,1139.3 719.5,1142.6 716.9,1139.3" fill="#8c5c08"/>
<line x1="737.4" y1="1126" x2="737.4" y2="1136" stroke="#8c5c08" stroke-width="1.7" />
<polygon points="737.4,1127.7 740.0,1131.0 737.4,1134.3 734.8,1131.0" fill="#8c5c08"/>
<line x1="754" y1="1117.6" x2="754" y2="1127.6" stroke="#8c5c08" stroke-width="1.7" />
<polygon points="754.0,1119.3 756.6,1122.6 754.0,1125.9 751.4,1122.6" fill="#8c5c08"/>
<line x1="767.7" y1="1104.4" x2="767.7" y2="1114.4" stroke="#8c5c08" stroke-width="1.7" />
<polygon points="767.7,1106.1 770.3,1109.4 767.7,1112.7 765.1,1109.4" fill="#8c5c08"/>
<line x1="789.3" y1="1106" x2="789.3" y2="1116" stroke="#8c5c08" stroke-width="1.7" />
<polygon points="789.3,1107.7 791.9,1111.0 789.3,1114.3 786.7,1111.0" fill="#8c5c08"/>
<line x1="808.8" y1="1106" x2="808.8" y2="1116" stroke="#8c5c08" stroke-width="1.7" />
<polygon points="808.8,1107.7 811.4,1111.0 808.8,1114.3 806.2,1111.0" fill="#8c5c08"/>
<line x1="826.6" y1="1091.9" x2="826.6" y2="1101.9" stroke="#8c5c08" stroke-width="1.7" />
<polygon points="826.6,1093.6 829.2,1096.9 826.6,1100.2 824.0,1096.9" fill="#8c5c08"/>
<line x1="838.2" y1="1089.4" x2="838.2" y2="1099.4" stroke="#8c5c08" stroke-width="1.7" />
<polygon points="838.2,1091.1 840.8,1094.4 838.2,1097.7 835.6,1094.4" fill="#8c5c08"/>
<line x1="846.1" y1="1078.2" x2="846.1" y2="1088.2" stroke="#8c5c08" stroke-width="1.7" />
<polygon points="846.1,1079.9 848.7,1083.2 846.1,1086.5 843.5,1083.2" fill="#8c5c08"/>
<line x1="851.5" y1="1072" x2="851.5" y2="1082" stroke="#8c5c08" stroke-width="1.7" />
<polygon points="851.5,1073.7 854.1,1077.0 851.5,1080.3 848.9,1077.0" fill="#8c5c08"/>
<line x1="857.7" y1="1062.9" x2="857.7" y2="1072.9" stroke="#8c5c08" stroke-width="1.7" />
<polygon points="857.7,1064.6 860.3,1067.9 857.7,1071.2 855.1,1067.9" fill="#8c5c08"/>
<line x1="864" y1="1067.8" x2="864" y2="1077.8" stroke="#8c5c08" stroke-width="1.7" />
<polygon points="864.0,1069.5 866.6,1072.8 864.0,1076.1 861.4,1072.8" fill="#8c5c08"/>
<line x1="875.2" y1="1077" x2="875.2" y2="1087" stroke="#8c5c08" stroke-width="1.7" />
<polygon points="875.2,1078.7 877.8,1082.0 875.2,1085.3 872.6,1082.0" fill="#8c5c08"/>
<line x1="893.9" y1="1090.7" x2="893.9" y2="1100.7" stroke="#8c5c08" stroke-width="1.7" />
<polygon points="893.9,1092.4 896.5,1095.7 893.9,1099.0 891.3,1095.7" fill="#8c5c08"/>
<line x1="913" y1="1088.6" x2="913" y2="1098.6" stroke="#8c5c08" stroke-width="1.7" />
<polygon points="913.0,1090.3 915.6,1093.6 913.0,1096.9 910.4,1093.6" fill="#8c5c08"/>
<line x1="933.7" y1="1096.1" x2="933.7" y2="1106.1" stroke="#8c5c08" stroke-width="1.7" />
<polygon points="933.7,1097.8 936.3,1101.1 933.7,1104.4 931.1,1101.1" fill="#8c5c08"/>
<line x1="949.1" y1="1087.8" x2="949.1" y2="1097.8" stroke="#8c5c08" stroke-width="1.7" />
<polygon points="949.1,1089.5 951.7,1092.8 949.1,1096.1 946.5,1092.8" fill="#8c5c08"/>
<line x1="964.8" y1="1080.3" x2="964.8" y2="1090.3" stroke="#8c5c08" stroke-width="1.7" />
<polygon points="964.8,1082.0 967.4,1085.3 964.8,1088.6 962.2,1085.3" fill="#8c5c08"/>
<line x1="980.6" y1="1067" x2="980.6" y2="1077" stroke="#8c5c08" stroke-width="1.7" />
<polygon points="980.6,1068.7 983.2,1072.0 980.6,1075.3 978.0,1072.0" fill="#8c5c08"/>
<line x1="1006.8" y1="1027.2" x2="1006.8" y2="1037.2" stroke="#8c5c08" stroke-width="1.7" />
<polygon points="1006.8,1028.9 1009.4,1032.2 1006.8,1035.5 1004.2,1032.2" fill="#8c5c08"/>
<path d="M664.7,964.9 H678 V1238.5" stroke="#000" stroke-width="2.2" fill="none"/>
<line x1="664.7" y1="1096.9" x2="678" y2="1096.9" stroke="#000" stroke-width="2.1" />
<line x1="664.7" y1="1229.3" x2="678" y2="1229.3" stroke="#000" stroke-width="2.1" />
<text x="660" y="975.4" font-size="25" text-anchor="end" >16</text>
<text x="660" y="1106" font-size="25" text-anchor="end" >10</text>
<text x="660" y="1237" font-size="25" text-anchor="end" >4</text>
</g>
<path d="M678.1,1228 V1239.2 H1014.4" stroke="#000" stroke-width="2.2" fill="none"/>
<line x1="687.5" y1="1239.2" x2="687.5" y2="1253.4" stroke="#000" stroke-width="2.1" />
<line x1="851" y1="1239.2" x2="851" y2="1253.4" stroke="#000" stroke-width="2.1" />
<line x1="1014.4" y1="1239.2" x2="1014.4" y2="1253.4" stroke="#000" stroke-width="2.1" />
<text x="689" y="1281.5" font-size="25" text-anchor="middle" >0.6</text>
<text x="851.5" y="1281.5" font-size="25" text-anchor="middle" >0</text>
<text x="1012" y="1281.5" font-size="25" text-anchor="middle" >–0.6</text>
<text x="853.5" y="1312.6" font-size="25" text-anchor="middle" >RSB</text>
<text transform="translate(616.5,1096.5) rotate(-90)" font-size="25" text-anchor="middle">Mutation rate (Mb<tspan font-size="16" dy="-10">−1</tspan><tspan dy="10">)</tspan></text>
<line x1="711.5" y1="883.5" x2="711.5" y2="898.0999999999999" stroke="#ff6608" stroke-width="3" stroke-linecap="round"/>
<ellipse cx="711.5" cy="890.8" rx="5.5" ry="4.5" fill="#ff6608"/>
<text x="726" y="899.8" font-size="25" >Non-genic</text>
<line x1="869.5" y1="883.5" x2="869.5" y2="898.0999999999999" stroke="#c9a606" stroke-width="3" stroke-linecap="round"/>
<ellipse cx="869.5" cy="890.8" rx="5.5" ry="4.5" fill="#c9a606"/>
<text x="878.7" y="899.8" font-size="25" >Genome</text>
<line x1="749.5" y1="920.3000000000001" x2="749.5" y2="934.9" stroke="#7a5500" stroke-width="3" stroke-linecap="round"/>
<ellipse cx="749.5" cy="927.6" rx="5.5" ry="4.5" fill="#7a5500"/>
<text x="764.3" y="937" font-size="25" >Genic transcribed</text>
<rect x="661.6" y="1330.3" width="390.7" height="46.4" fill="#c8c8c8"/>
<polygon points="661.6,1344.6 1052.3,1363.9 1052.3,1376.7 661.6,1376.7" fill="#000"/>
<text x="671" y="1369" font-size="23.2" fill="#fff" >Leading</text>
<text x="1045" y="1353.5" font-size="23.2" text-anchor="end" >Lagging</text>
<text x="845.5" y="1405.7" font-size="25" text-anchor="middle" >(RSB: RFD oriented so all lesions</text>
<text x="846.5" y="1434.7" font-size="25" text-anchor="middle" >are on the reverse strand)</text>
</svg>
</body></html>
